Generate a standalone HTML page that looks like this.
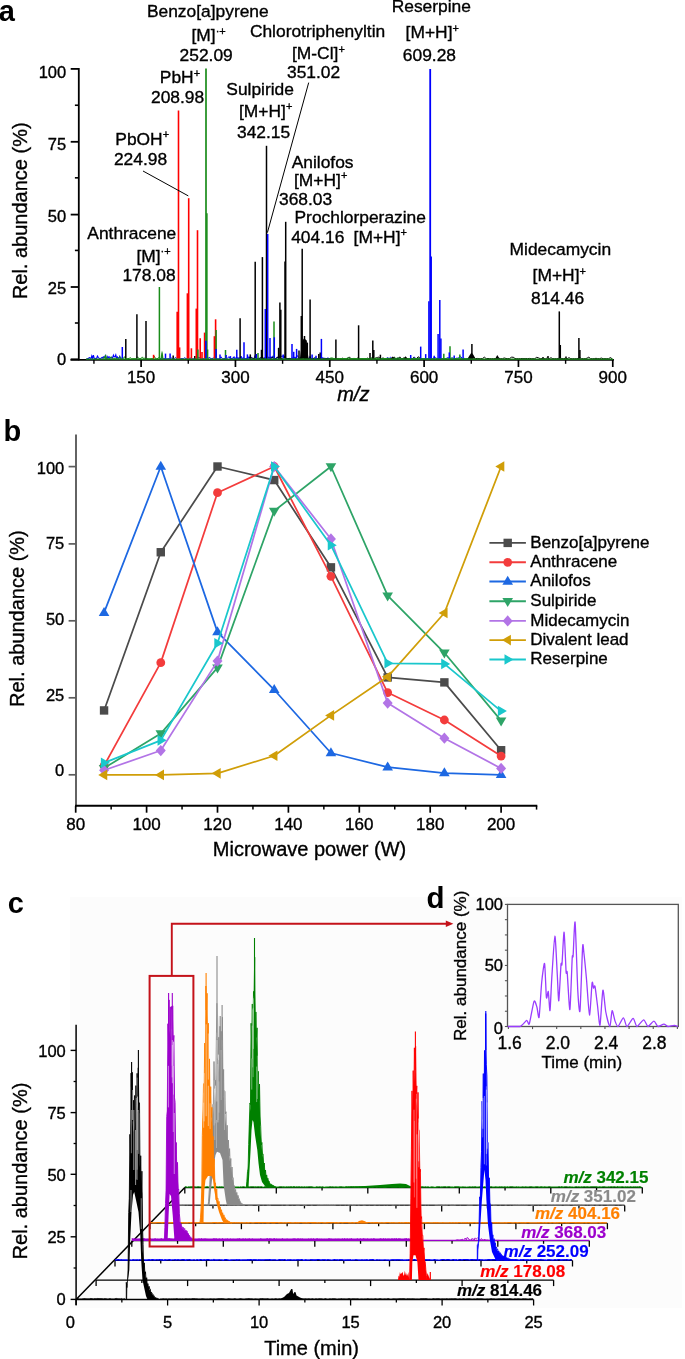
<!DOCTYPE html>
<html><head><meta charset="utf-8"><style>
html,body{margin:0;padding:0;background:#fff;}
svg{display:block;font-family:"Liberation Sans", sans-serif;will-change:transform;}
</style></head><body>
<svg width="685" height="1359" viewBox="0 0 685 1359">
<rect width="685" height="1359" fill="#fff"/>
<text x="-1.2" y="21" font-size="29" font-weight="bold">a</text>
<line x1="78.8" y1="67.9" x2="78.8" y2="360.2" stroke="#000000" stroke-width="1.8"/>
<line x1="70.5" y1="359.9" x2="613.8" y2="359.9" stroke="#000000" stroke-width="1.9"/>
<line x1="70.7" y1="68.9" x2="79" y2="68.9" stroke="#000000" stroke-width="1.8"/>
<line x1="70.7" y1="141.8" x2="79" y2="141.8" stroke="#000000" stroke-width="1.8"/>
<line x1="70.7" y1="214.6" x2="79" y2="214.6" stroke="#000000" stroke-width="1.8"/>
<line x1="70.7" y1="287" x2="79" y2="287" stroke="#000000" stroke-width="1.8"/>
<line x1="70.7" y1="359.3" x2="79" y2="359.3" stroke="#000000" stroke-width="1.8"/>
<line x1="74.9" y1="105.24" x2="79" y2="105.24" stroke="#000000" stroke-width="1.6"/>
<line x1="74.9" y1="177.83" x2="79" y2="177.83" stroke="#000000" stroke-width="1.6"/>
<line x1="74.9" y1="250.42" x2="79" y2="250.42" stroke="#000000" stroke-width="1.6"/>
<line x1="74.9" y1="323" x2="79" y2="323" stroke="#000000" stroke-width="1.6"/>
<text x="66.2" y="78" font-size="16.5" text-anchor="end" stroke="#000" stroke-width="0.35">100</text>
<text x="66.2" y="149.8" font-size="16.5" text-anchor="end" stroke="#000" stroke-width="0.35">75</text>
<text x="66.2" y="221.6" font-size="16.5" text-anchor="end" stroke="#000" stroke-width="0.35">50</text>
<text x="66.2" y="294" font-size="16.5" text-anchor="end" stroke="#000" stroke-width="0.35">25</text>
<text x="66.2" y="364.5" font-size="16.5" text-anchor="end" stroke="#000" stroke-width="0.35">0</text>
<line x1="141.1" y1="359" x2="141.1" y2="367" stroke="#000000" stroke-width="1.7"/>
<text x="141.1" y="383.3" font-size="17" text-anchor="middle" stroke="#000" stroke-width="0.35">150</text>
<line x1="235.44" y1="359" x2="235.44" y2="367" stroke="#000000" stroke-width="1.7"/>
<text x="235.44" y="383.3" font-size="17" text-anchor="middle" stroke="#000" stroke-width="0.35">300</text>
<line x1="329.77" y1="359" x2="329.77" y2="367" stroke="#000000" stroke-width="1.7"/>
<text x="329.77" y="383.3" font-size="17" text-anchor="middle" stroke="#000" stroke-width="0.35">450</text>
<line x1="424.11" y1="359" x2="424.11" y2="367" stroke="#000000" stroke-width="1.7"/>
<text x="424.11" y="383.3" font-size="17" text-anchor="middle" stroke="#000" stroke-width="0.35">600</text>
<line x1="518.44" y1="359" x2="518.44" y2="367" stroke="#000000" stroke-width="1.7"/>
<text x="518.44" y="383.3" font-size="17" text-anchor="middle" stroke="#000" stroke-width="0.35">750</text>
<line x1="612.77" y1="359" x2="612.77" y2="367" stroke="#000000" stroke-width="1.7"/>
<text x="612.77" y="383.3" font-size="17" text-anchor="middle" stroke="#000" stroke-width="0.35">900</text>
<line x1="93.93" y1="359.3" x2="93.93" y2="363.8" stroke="#000000" stroke-width="1.4"/>
<line x1="188.27" y1="359.3" x2="188.27" y2="363.8" stroke="#000000" stroke-width="1.4"/>
<line x1="282.6" y1="359.3" x2="282.6" y2="363.8" stroke="#000000" stroke-width="1.4"/>
<line x1="376.94" y1="359.3" x2="376.94" y2="363.8" stroke="#000000" stroke-width="1.4"/>
<line x1="471.27" y1="359.3" x2="471.27" y2="363.8" stroke="#000000" stroke-width="1.4"/>
<line x1="565.61" y1="359.3" x2="565.61" y2="363.8" stroke="#000000" stroke-width="1.4"/>
<text x="337.2" y="400.6" font-size="20" font-style="italic" stroke="#000" stroke-width="0.35">m/z</text>
<text x="0" y="0" font-size="20" text-anchor="middle" stroke="#000" stroke-width="0.35" transform="translate(27,210.8) rotate(-90)">Rel. abundance (%)</text>
<polyline points="87,358.7 87,358.61 87.8,358.68 88.6,358.17 89.4,357.67 90.2,357.95 91,358.67 91.8,355.97 92.6,358.5 93.4,355.11 94.2,358.07 95,358.69 95.8,358.36 96.6,358.64 97.4,356.04 98.2,357.35 99,358.15 99.8,358.68 100.6,358.53 101.4,357.97 102.2,357.33 103,358.34 103.8,356.75 104.6,357.38 105.4,355.64 106.2,358.37 107,358.64 107.8,356.41 108.6,357.74 109.4,356.91 110.2,357.39 111,358.31 111.8,357.29 112.6,357.87 113.4,355.13 114.2,356.94 115,356.73 115.8,354.76 116.6,358.38 117.4,356.91 118.2,357.85 119,358.65 119.8,356.34 120.6,358.45 121,358.7" fill="none" stroke="#0000ff" stroke-width="1.1"/>
<polyline points="104,358.7 104,356.8 105.2,358.2 106.4,356.75 107.6,358.7 108.8,358.7 110,358.27 111.2,356.75 112.4,358.7 113.6,358.62 114.8,358.56 116,357.83 117.2,358.7 118.4,358.36 119.6,356.43 120.8,358.7 122,357.75 123.2,358.7 124.4,356.68 125.6,358.7 126.8,358.7 128,358.7 129.2,358.3 130.4,357.69 131.6,358.69 132.8,358.63 134,358.69 135.2,358.64 136.4,358.37 137.6,356.79 138.8,358.7 140,358.54 141.2,358.37 142.4,356.9 143.6,358.7 144.8,358.11 146,358.67 147.2,358.52 148.4,358.7 149.6,358.7 150.8,358.7 152,358.65 153.2,358.7 154.4,356.31 155.6,358.7 156.8,358.7 158,358.36 159.2,357.21 160,358.7" fill="none" stroke="#1a8c1a" stroke-width="1"/>
<polyline points="160,358.7 160,358.7 161.3,358.7 162.6,358.58 163.9,358.7 165.2,358.7 166.5,358.7 167.8,358.7 169.1,358.7 170.4,358.7 171.7,358.03 173,358.7 174.3,358.5 175.6,357.5 176.9,358.7 178.2,356.5 179.5,358.7 180.8,358.7 182.1,358.58 183.4,358.6 184.7,357.73 186,358.7 187.3,358.7 188.6,357.63 189.9,358.7 191.2,357.61 192.5,358.7 193.8,358.7 195.1,358.7 196.4,358.62 197.7,358.7 199,357.1 200.3,358.7 201.6,358.3 202.9,358.7 204.2,358.7 205.5,358.66 206.8,356.65 208.1,358.7 209.4,356.99 210.7,358.7 212,358.7 213.3,357.95 214.6,358.7 215.9,358.7 217.2,358.7 218.5,358.7 219.8,358.7 221.1,356.8 222.4,358.7 223.7,358.54 225,358.56 226.3,358.7 227.6,358.26 228.9,356.63 230.2,358.18 231.5,358.7 232.8,358.7 234.1,356.59 235.4,358.7 236.7,358.7 238,358.7 239.3,358.22 240.6,358.7 241.9,358.7 243.2,358.14 244.5,358.7 245.8,358.7 247.1,358.03 248.4,358.7 249.7,358.7 250,358.7" fill="none" stroke="#0000ff" stroke-width="1"/>
<polyline points="230,358.7 230,357.6 231,358.43 232,358.7 233,357.6 234,358.7 235,358.7 236,357.39 237,357.78 238,357.98 239,357.9 240,358.7 241,356.01 242,358.7 243,357.6 244,358.7 245,358.7 246,358.65 247,358.68 248,358.68 249,356.55 250,358.7 251,356.91 252,358.63 253,358.7 254,358.7 255,355.52 256,357.87 257,358.7 258,358.7 259,358.05 260,358.3 261,358.34 262,358.7 263,357.63 264,358.7 265,357.34 266,358.69 267,358.7 268,358.7 269,358.7 270,358.45 271,356.58 272,358.64 273,355.79 274,358.7 275,358.62 276,358.7 277,356.98 278,358.69 279,358.07 280,355.62 281,356.45 282,356.13 283,356.09 284,358.3 285,355.69 286,358.64 287,358.5 288,358.61 289,358.56 290,358.37 291,358.7 292,357.82 293,358.28 294,358.48 295,356.82 296,358.57 297,355.64 298,356.35 299,357.84 300,358.7 301,357.8 302,355.32 303,356.28 304,358.7 305,358.13 306,358.69 307,358.68 308,358.7 309,358.61 310,356.22 311,358.7 312,358.42 313,358.4 314,358.61 315,358.46 316,358.7 317,358.7 318,358.49 319,358.7 320,358.25 321,358.19 322,357.82 323,357.81 324,358.46 325,358.14 326,358.7 327,358.51 328,357.72 329,358.7 330,358.7" fill="none" stroke="#0000ff" stroke-width="1"/>
<polyline points="380,358.7 380,358.7 381.5,358.7 383,358.7 384.5,358.49 386,358.7 387.5,357.65 389,358.7 390.5,357.3 392,358.7 393.5,358.7 395,358.7 396.5,358.7 398,358.15 399.5,358.7 401,358.7 402.5,358.7 404,358.7 405.5,358.7 407,358.7 408.5,358.7 410,358.7 411.5,358.7 413,358.44 414.5,357.3 416,358.7 417.5,358.7 419,358.7 420.5,358.7 422,358.7 423.5,358.7 425,358.7 426.5,358.7 428,358.7 429.5,358.7 431,357.61 432.5,358.69 434,357.64 435.5,357.61 437,358.7 438.5,358.41 440,357.77 441.5,358.7 443,358.7 444.5,358.7 446,358.66 447.5,357.6 449,358.06 450.5,358.69 452,357.8 453.5,358.7 455,358.7 456.5,358.17 458,358.27 459.5,357.1 461,356.79 462.5,358.7 464,358.28 465.5,358.7 467,358.7 468.5,358.56 470,358.7" fill="none" stroke="#0000ff" stroke-width="1"/>
<polyline points="250,358.7 250,356.91 251.4,358.02 252.8,358.15 254.2,358.7 255.6,357.35 257,358.7 258.4,358.7 259.8,358.7 261.2,357.09 262.6,358.7 264,358.22 265.4,358.52 266.8,358.46 268.2,357.29 269.6,357.57 271,358.7 272.4,356.98 273.8,358.7 275.2,358.7 276.6,358.42 278,356.7 279.4,358.7 280.8,358.33 282.2,358.7 283.6,357.31 285,356.95 286.4,358.56 287.8,358.7 289.2,358.42 290.6,358.7 292,358.7 293.4,358.7 294.8,358.7 296.2,358.7 297.6,358.7 299,358.7 300.4,358.7 301.8,357.63 303.2,357.57 304.6,358.7 306,358.7 307.4,358.7 308.8,358.25 310.2,358.52 311.6,358.7 313,358.7 314.4,357.84 315.8,358.08 317.2,358.64 318.6,358.61 320,358.7 321.4,358.6 322.8,358.7 324.2,358.7 325.6,358.66 327,358.68 328.4,358.68 329.8,358.57 331.2,358.7 332.6,358.7 334,358.7 335.4,358.36 336.8,358.7 338.2,358.47 339.6,358.55 341,358.7 342.4,358.19 343.8,358.7 345.2,358.7 346.6,358.55 348,358.38 349.4,356.88 350.8,358.7 352.2,358.7 353.6,358.7 355,358.7 356.4,358.7 357.8,358.01 359.2,358.39 360.6,358.7 362,358.7 363.4,358.7 364.8,358.7 366.2,358.68 367.6,358.15 369,358.7 370.4,358.7 371.8,358.7 373.2,358.7 374.6,358.7 376,358.09 377.4,357.48 378.8,357.01 380.2,358.7 381.6,358.67 383,357.89 384.4,358.7 385.8,358.69 387.2,358.7 388.6,358.7 390,358.6 391.4,358.7 392.8,358.52 394.2,356.86 395.6,358.7 397,358.7 398.4,358.59 399.8,356.85 401.2,358.7 402.6,358.7 404,357.79 405.4,358.57 406.8,358.7 408.2,358.7 409.6,358.7 411,358.35 412.4,358.7 413.8,357.43 415.2,358.7 416.6,358.7 418,356.82 419.4,357.36 420,358.7" fill="none" stroke="#000000" stroke-width="1"/>
<polyline points="470,358.7 470,358.62 471.8,358.7 473.6,357.25 475.4,358.64 477.2,358.42 479,358.7 480.8,358.7 482.6,358.45 484.4,357.18 486.2,358.7 488,358.45 489.8,358.7 491.6,358.7 493.4,358.7 495.2,358.7 497,358.7 498.8,358.64 500.6,358.7 502.4,358.7 504.2,357.99 506,358.48 507.8,358.65 509.6,358.57 511.4,357.24 513.2,357.21 515,358.5 516.8,358.7 518.6,358.7 520.4,358.7 522.2,358.48 524,358.7 525.8,358.49 527.6,358.7 529.4,358.43 531.2,358.7 533,358.7 534.8,358.7 536.6,357.35 538.4,357.81 540.2,358.7 542,358.58 543.8,358.7 545.6,358.7 547.4,357.88 549.2,358.58 551,357.79 552.8,358.7 554.6,358.7 556.4,358.7 558.2,358.61 560,357.24 561.8,358.7 563.6,358.6 565.4,358.31 567.2,358.7 569,357.67 570.8,358.7 572.6,358.7 574.4,358.7 576.2,358.7 578,358.54 579.8,357.72 581.6,358.64 583.4,358.7 585.2,358.69 587,358.21 588.8,357.16 590.6,358.7 592.4,358.7 594.2,358.69 596,358.3 597.8,358.7 599.6,358.61 601.4,358.08 603.2,358.7 605,358.7 606.8,358.7 608.6,358.7 610.4,357.57 612,358.7" fill="none" stroke="#000000" stroke-width="1"/>
<polyline points="330,358.7 330,358.22 332,357.88 334,358.61 336,358.66 338,358.7 340,358.7 342,358.46 344,358.7 346,358.7 348,357.72 350,358.7 352,358.7 354,358.36 356,358.7 358,358.7 360,358.7 362,358.57 364,358.65 366,358.7 368,358.7 370,358.7 372,357.57 374,358.7 376,357.79 378,358.7 380,358.17 382,358.7 384,358.5 386,358.64 388,358.16 390,358.7 392,358.7 394,358.01 396,358.55 398,357.75 400,358.7 402,358.68 404,358.25 406,358.7 408,358.66 410,358.7 412,358.7 414,358.56 416,358.7 418,358.22 420,358.44 422,358.7 424,358.7 426,358.64 428,358.7 430,358.7 432,358.7 434,358.7 436,358.7 438,358.7 440,358.7 442,358.7 444,358.7 446,358.7 448,358.7 450,358.7 452,358.12 454,358.32 456,358.58 458,358.7 460,358.7 462,358.34 464,358.7 466,358.7 468,358.68 470,358.7" fill="none" stroke="#1a8c1a" stroke-width="1"/>
<line x1="125.8" y1="358.8" x2="125.8" y2="339" stroke="#000000" stroke-width="1.5"/>
<line x1="136.9" y1="358.8" x2="136.9" y2="314.3" stroke="#000000" stroke-width="1.5"/>
<line x1="146" y1="358.8" x2="146" y2="321" stroke="#000000" stroke-width="1.5"/>
<line x1="173.2" y1="358.8" x2="173.2" y2="355.6" stroke="#000000" stroke-width="1.5"/>
<line x1="194.8" y1="358.8" x2="194.8" y2="356.1" stroke="#000000" stroke-width="1.5"/>
<line x1="240.1" y1="358.8" x2="240.1" y2="318.3" stroke="#000000" stroke-width="1.5"/>
<line x1="250.3" y1="358.8" x2="250.3" y2="354.4" stroke="#000000" stroke-width="1.5"/>
<line x1="255.2" y1="358.8" x2="255.2" y2="261.8" stroke="#000000" stroke-width="1.5"/>
<line x1="261.5" y1="358.8" x2="261.5" y2="349.8" stroke="#000000" stroke-width="1.5"/>
<line x1="262.4" y1="358.8" x2="262.4" y2="257.1" stroke="#000000" stroke-width="1.5"/>
<line x1="266.5" y1="358.8" x2="266.5" y2="145.8" stroke="#000000" stroke-width="1.5"/>
<line x1="278.6" y1="358.8" x2="278.6" y2="347.8" stroke="#000000" stroke-width="1.5"/>
<line x1="279.9" y1="358.8" x2="279.9" y2="302.5" stroke="#000000" stroke-width="1.5"/>
<line x1="280.8" y1="358.8" x2="280.8" y2="309.7" stroke="#000000" stroke-width="1.5"/>
<line x1="285" y1="358.8" x2="285" y2="261.5" stroke="#000000" stroke-width="1.5"/>
<line x1="285.7" y1="358.8" x2="285.7" y2="221.8" stroke="#000000" stroke-width="1.5"/>
<line x1="299" y1="358.8" x2="299" y2="350.4" stroke="#000000" stroke-width="1.5"/>
<line x1="301.3" y1="358.8" x2="301.3" y2="316" stroke="#000000" stroke-width="1.5"/>
<line x1="302.2" y1="358.8" x2="302.2" y2="248.8" stroke="#000000" stroke-width="1.5"/>
<line x1="304.5" y1="358.8" x2="304.5" y2="336" stroke="#000000" stroke-width="1.5"/>
<line x1="306" y1="358.8" x2="306" y2="340.6" stroke="#000000" stroke-width="1.5"/>
<line x1="307.3" y1="358.8" x2="307.3" y2="342.6" stroke="#000000" stroke-width="1.5"/>
<line x1="310.1" y1="358.8" x2="310.1" y2="299.5" stroke="#000000" stroke-width="1.5"/>
<line x1="318.8" y1="358.8" x2="318.8" y2="354" stroke="#000000" stroke-width="1.5"/>
<line x1="320.2" y1="358.8" x2="320.2" y2="352.4" stroke="#000000" stroke-width="1.5"/>
<line x1="335.9" y1="358.8" x2="335.9" y2="339.6" stroke="#000000" stroke-width="1.5"/>
<line x1="358.6" y1="358.8" x2="358.6" y2="325.3" stroke="#000000" stroke-width="1.5"/>
<line x1="370" y1="358.8" x2="370" y2="352.9" stroke="#000000" stroke-width="1.5"/>
<line x1="372.8" y1="358.8" x2="372.8" y2="340.6" stroke="#000000" stroke-width="1.5"/>
<line x1="373.8" y1="358.8" x2="373.8" y2="350" stroke="#000000" stroke-width="1.5"/>
<line x1="380.4" y1="358.8" x2="380.4" y2="354.7" stroke="#000000" stroke-width="1.5"/>
<line x1="471.9" y1="358.8" x2="471.9" y2="344.1" stroke="#000000" stroke-width="1.5"/>
<line x1="559.3" y1="358.8" x2="559.3" y2="311.4" stroke="#000000" stroke-width="1.5"/>
<line x1="560.3" y1="358.8" x2="560.3" y2="345" stroke="#000000" stroke-width="1.5"/>
<line x1="578.9" y1="358.8" x2="578.9" y2="337.9" stroke="#000000" stroke-width="1.5"/>
<line x1="579.9" y1="358.8" x2="579.9" y2="350" stroke="#000000" stroke-width="1.5"/>
<line x1="548" y1="358.8" x2="548" y2="356" stroke="#000000" stroke-width="1.5"/>
<line x1="566" y1="358.8" x2="566" y2="356.5" stroke="#000000" stroke-width="1.5"/>
<line x1="543" y1="358.8" x2="543" y2="357" stroke="#000000" stroke-width="1.5"/>
<polygon points="300,358.8 302.12,341 304.25,338 306.38,340.5 308.5,358.8" fill="#000000"/>
<polygon points="467.5,358.8 469.5,355.5 471.5,352.5 473.5,355 475.5,358.8" fill="#000000"/>
<polygon points="494,358.8 495.62,358 497.25,355 498.88,357.5 500.5,358.8" fill="#000000"/>
<polygon points="387,358.8 389.75,359.6 392.5,356.6 395.25,359.1 398,358.8" fill="#000000"/>
<polygon points="401,358.8 403.25,359.2 405.5,356.2 407.75,358.7 410,358.8" fill="#000000"/>
<line x1="178.5" y1="358.8" x2="178.5" y2="110.5" stroke="#ff0000" stroke-width="1.6"/>
<line x1="177.2" y1="358.8" x2="177.2" y2="311.7" stroke="#ff0000" stroke-width="1.6"/>
<line x1="179.6" y1="358.8" x2="179.6" y2="347.4" stroke="#ff0000" stroke-width="1.6"/>
<line x1="188.7" y1="358.8" x2="188.7" y2="198.2" stroke="#ff0000" stroke-width="1.6"/>
<line x1="187.4" y1="358.8" x2="187.4" y2="293.3" stroke="#ff0000" stroke-width="1.6"/>
<line x1="191.4" y1="358.8" x2="191.4" y2="348.3" stroke="#ff0000" stroke-width="1.6"/>
<line x1="197.5" y1="358.8" x2="197.5" y2="230.2" stroke="#ff0000" stroke-width="1.6"/>
<line x1="196.3" y1="358.8" x2="196.3" y2="308.6" stroke="#ff0000" stroke-width="1.6"/>
<line x1="200.2" y1="358.8" x2="200.2" y2="338.2" stroke="#ff0000" stroke-width="1.6"/>
<line x1="204.6" y1="358.8" x2="204.6" y2="332.6" stroke="#ff0000" stroke-width="1.6"/>
<line x1="215.6" y1="358.8" x2="215.6" y2="319.3" stroke="#ff0000" stroke-width="1.6"/>
<line x1="214.4" y1="358.8" x2="214.4" y2="336.2" stroke="#ff0000" stroke-width="1.6"/>
<line x1="153.6" y1="358.8" x2="153.6" y2="354.8" stroke="#ff0000" stroke-width="1.6"/>
<line x1="202" y1="358.8" x2="202" y2="352" stroke="#ff0000" stroke-width="1.6"/>
<line x1="206" y1="358.8" x2="206" y2="68.5" stroke="#1a8c1a" stroke-width="1.7"/>
<line x1="206.9" y1="358.8" x2="206.9" y2="213.3" stroke="#1a8c1a" stroke-width="1.5"/>
<line x1="159.4" y1="358.8" x2="159.4" y2="287" stroke="#1a8c1a" stroke-width="1.5"/>
<line x1="197.9" y1="358.8" x2="197.9" y2="349.5" stroke="#1a8c1a" stroke-width="1.5"/>
<line x1="207.6" y1="358.8" x2="207.6" y2="349.5" stroke="#1a8c1a" stroke-width="1.5"/>
<line x1="216.1" y1="358.8" x2="216.1" y2="330.1" stroke="#1a8c1a" stroke-width="1.5"/>
<line x1="225.5" y1="358.8" x2="225.5" y2="350" stroke="#1a8c1a" stroke-width="1.5"/>
<line x1="258" y1="358.8" x2="258" y2="353" stroke="#1a8c1a" stroke-width="1.5"/>
<line x1="274" y1="358.8" x2="274" y2="321.5" stroke="#1a8c1a" stroke-width="1.5"/>
<line x1="443.8" y1="358.8" x2="443.8" y2="353.7" stroke="#1a8c1a" stroke-width="1.5"/>
<line x1="450" y1="358.8" x2="450" y2="346.2" stroke="#1a8c1a" stroke-width="1.5"/>
<line x1="459.8" y1="358.8" x2="459.8" y2="354.4" stroke="#1a8c1a" stroke-width="1.5"/>
<line x1="105.6" y1="358.8" x2="105.6" y2="354.8" stroke="#1a8c1a" stroke-width="1.5"/>
<polygon points="160.5,358.8 161.25,353.5 162,350.5 162.75,353 163.5,358.8" fill="#1a8c1a"/>
<line x1="122.3" y1="358.8" x2="122.3" y2="347" stroke="#0000ff" stroke-width="1.5"/>
<line x1="165.5" y1="358.8" x2="165.5" y2="353.6" stroke="#0000ff" stroke-width="1.5"/>
<line x1="170.1" y1="358.8" x2="170.1" y2="353.6" stroke="#0000ff" stroke-width="1.5"/>
<line x1="205.9" y1="358.8" x2="205.9" y2="340.8" stroke="#0000ff" stroke-width="1.5"/>
<line x1="216.1" y1="358.8" x2="216.1" y2="349" stroke="#0000ff" stroke-width="1.5"/>
<line x1="220" y1="358.8" x2="220" y2="354.6" stroke="#0000ff" stroke-width="1.5"/>
<line x1="226.1" y1="358.8" x2="226.1" y2="355.1" stroke="#0000ff" stroke-width="1.5"/>
<line x1="230.4" y1="358.8" x2="230.4" y2="356.1" stroke="#0000ff" stroke-width="1.5"/>
<line x1="236.8" y1="358.8" x2="236.8" y2="349.8" stroke="#0000ff" stroke-width="1.5"/>
<line x1="244" y1="358.8" x2="244" y2="342.3" stroke="#0000ff" stroke-width="1.5"/>
<line x1="247.4" y1="358.8" x2="247.4" y2="354.4" stroke="#0000ff" stroke-width="1.5"/>
<line x1="256.3" y1="358.8" x2="256.3" y2="354" stroke="#0000ff" stroke-width="1.5"/>
<line x1="267.7" y1="358.8" x2="267.7" y2="234" stroke="#0000ff" stroke-width="1.5"/>
<line x1="265.3" y1="358.8" x2="265.3" y2="309" stroke="#0000ff" stroke-width="1.5"/>
<line x1="270" y1="358.8" x2="270" y2="338" stroke="#0000ff" stroke-width="1.5"/>
<line x1="274.3" y1="358.8" x2="274.3" y2="337.3" stroke="#0000ff" stroke-width="1.5"/>
<line x1="283.2" y1="358.8" x2="283.2" y2="354.4" stroke="#0000ff" stroke-width="1.5"/>
<line x1="292" y1="358.8" x2="292" y2="344" stroke="#0000ff" stroke-width="1.5"/>
<line x1="293.7" y1="358.8" x2="293.7" y2="351.8" stroke="#0000ff" stroke-width="1.5"/>
<line x1="296.6" y1="358.8" x2="296.6" y2="348.9" stroke="#0000ff" stroke-width="1.5"/>
<line x1="312.1" y1="358.8" x2="312.1" y2="354.4" stroke="#0000ff" stroke-width="1.5"/>
<line x1="316" y1="358.8" x2="316" y2="355.7" stroke="#0000ff" stroke-width="1.5"/>
<line x1="321.4" y1="358.8" x2="321.4" y2="338.9" stroke="#0000ff" stroke-width="1.5"/>
<line x1="410.7" y1="358.8" x2="410.7" y2="355" stroke="#0000ff" stroke-width="1.5"/>
<line x1="420.7" y1="358.8" x2="420.7" y2="346.6" stroke="#0000ff" stroke-width="1.5"/>
<line x1="425.7" y1="358.8" x2="425.7" y2="354.1" stroke="#0000ff" stroke-width="1.5"/>
<line x1="430.2" y1="358.8" x2="430.2" y2="69" stroke="#0000ff" stroke-width="1.8"/>
<line x1="428.9" y1="358.8" x2="428.9" y2="301.2" stroke="#0000ff" stroke-width="1.5"/>
<line x1="431.2" y1="358.8" x2="431.2" y2="256.6" stroke="#0000ff" stroke-width="1.5"/>
<line x1="439.8" y1="358.8" x2="439.8" y2="299.9" stroke="#0000ff" stroke-width="1.5"/>
<line x1="438.1" y1="358.8" x2="438.1" y2="334" stroke="#0000ff" stroke-width="1.5"/>
<line x1="440.9" y1="358.8" x2="440.9" y2="338.6" stroke="#0000ff" stroke-width="1.5"/>
<line x1="434.2" y1="358.8" x2="434.2" y2="355.7" stroke="#0000ff" stroke-width="1.5"/>
<line x1="449.3" y1="358.8" x2="449.3" y2="352.4" stroke="#0000ff" stroke-width="1.5"/>
<line x1="454.2" y1="358.8" x2="454.2" y2="355.4" stroke="#0000ff" stroke-width="1.5"/>
<line x1="463.1" y1="358.8" x2="463.1" y2="349.4" stroke="#0000ff" stroke-width="1.5"/>
<line x1="86" y1="359.1" x2="613" y2="359.1" stroke="#1a8c1a" stroke-width="1.2"/>
<text x="146.9" y="16.9" font-size="17.4" stroke="#000" stroke-width="0.35">Benzo[a]pyrene</text>
<text x="191.5" y="41" font-size="17.4" stroke="#000" stroke-width="0.35">[M]<tspan font-size="11" dy="-6.5">&#183;+</tspan></text>
<text x="179.6" y="60.8" font-size="17.4" stroke="#000" stroke-width="0.35">252.09</text>
<text x="249.9" y="36.7" font-size="17.4" stroke="#000" stroke-width="0.35">Chlorotriphenyltin</text>
<text x="292" y="59" font-size="17.4" stroke="#000" stroke-width="0.35">[M-Cl]<tspan font-size="11" dy="-6.5">+</tspan></text>
<text x="287" y="77.7" font-size="17.4" stroke="#000" stroke-width="0.35">351.02</text>
<text x="391.7" y="12.4" font-size="17.4" stroke="#000" stroke-width="0.35">Reserpine</text>
<text x="405.6" y="38" font-size="17.4" stroke="#000" stroke-width="0.35">[M+H]<tspan font-size="11" dy="-6.5">+</tspan></text>
<text x="402.8" y="61" font-size="17.4" stroke="#000" stroke-width="0.35">609.28</text>
<text x="159.8" y="83" font-size="17.4" stroke="#000" stroke-width="0.35">PbH<tspan font-size="11" dy="-6.5">+</tspan></text>
<text x="151" y="103" font-size="17.4" stroke="#000" stroke-width="0.35">208.98</text>
<text x="226.3" y="95" font-size="17.4" stroke="#000" stroke-width="0.35">Sulpiride</text>
<text x="239" y="116.6" font-size="17.4" stroke="#000" stroke-width="0.35">[M+H]<tspan font-size="11" dy="-6.5">+</tspan></text>
<text x="237" y="137.7" font-size="17.4" stroke="#000" stroke-width="0.35">342.15</text>
<text x="115.3" y="144.5" font-size="17.4" stroke="#000" stroke-width="0.35">PbOH<tspan font-size="11" dy="-6.5">+</tspan></text>
<text x="113.9" y="165" font-size="17.4" stroke="#000" stroke-width="0.35">224.98</text>
<text x="87.3" y="238.9" font-size="17.4" stroke="#000" stroke-width="0.35">Anthracene</text>
<text x="136.4" y="261.8" font-size="17.4" stroke="#000" stroke-width="0.35">[M]<tspan font-size="11" dy="-6.5">&#183;+</tspan></text>
<text x="122.4" y="281" font-size="17.4" stroke="#000" stroke-width="0.35">178.08</text>
<text x="291.7" y="167.6" font-size="17.4" stroke="#000" stroke-width="0.35">Anilofos</text>
<text x="294" y="185.5" font-size="17.4" stroke="#000" stroke-width="0.35">[M+H]<tspan font-size="11" dy="-6.5">+</tspan></text>
<text x="279" y="204.8" font-size="17.4" stroke="#000" stroke-width="0.35">368.03</text>
<text x="294.5" y="222.9" font-size="17.4" stroke="#000" stroke-width="0.35">Prochlorperazine</text>
<text x="291.2" y="242.8" font-size="17.4" stroke="#000" stroke-width="0.35">404.16</text>
<text x="353.6" y="242.8" font-size="17.4" stroke="#000" stroke-width="0.35">[M+H]<tspan font-size="11" dy="-6.5">+</tspan></text>
<text x="509.6" y="255.1" font-size="17.4" stroke="#000" stroke-width="0.35">Midecamycin</text>
<text x="532.6" y="281.2" font-size="17.4" stroke="#000" stroke-width="0.35">[M+H]<tspan font-size="11" dy="-6.5">+</tspan></text>
<text x="531" y="304.2" font-size="17.4" stroke="#000" stroke-width="0.35">814.46</text>
<line x1="143" y1="171" x2="188.3" y2="195.9" stroke="#000000" stroke-width="1"/>
<line x1="308.7" y1="82.6" x2="267.4" y2="232.6" stroke="#000000" stroke-width="1"/>
<text x="3.5" y="440.5" font-size="29" font-weight="bold">b</text>
<line x1="76" y1="434.5" x2="76" y2="806.5" stroke="#5c5c5c" stroke-width="1.9"/>
<line x1="68.6" y1="466.6" x2="76" y2="466.6" stroke="#5c5c5c" stroke-width="1.7"/>
<line x1="68.6" y1="543.9" x2="76" y2="543.9" stroke="#5c5c5c" stroke-width="1.7"/>
<line x1="68.6" y1="620.8" x2="76" y2="620.8" stroke="#5c5c5c" stroke-width="1.7"/>
<line x1="68.6" y1="697.8" x2="76" y2="697.8" stroke="#5c5c5c" stroke-width="1.7"/>
<line x1="68.6" y1="774.8" x2="76" y2="774.8" stroke="#5c5c5c" stroke-width="1.7"/>
<text x="64.3" y="473.6" font-size="16.5" text-anchor="end" stroke="#000" stroke-width="0.35">100</text>
<text x="64.3" y="549.4" font-size="16.5" text-anchor="end" stroke="#000" stroke-width="0.35">75</text>
<text x="64.3" y="625.1" font-size="16.5" text-anchor="end" stroke="#000" stroke-width="0.35">50</text>
<text x="64.3" y="701" font-size="16.5" text-anchor="end" stroke="#000" stroke-width="0.35">25</text>
<text x="64.3" y="776.2" font-size="16.5" text-anchor="end" stroke="#000" stroke-width="0.35">0</text>
<line x1="75.1" y1="805.8" x2="537.3" y2="805.8" stroke="#000000" stroke-width="1.9"/>
<line x1="75.7" y1="805.8" x2="75.7" y2="812.7" stroke="#000000" stroke-width="1.7"/>
<text x="75.7" y="830.2" font-size="17" text-anchor="middle" stroke="#000" stroke-width="0.35">80</text>
<line x1="146.6" y1="805.8" x2="146.6" y2="812.7" stroke="#000000" stroke-width="1.7"/>
<text x="146.6" y="830.2" font-size="17" text-anchor="middle" stroke="#000" stroke-width="0.35">100</text>
<line x1="217.5" y1="805.8" x2="217.5" y2="812.7" stroke="#000000" stroke-width="1.7"/>
<text x="217.5" y="830.2" font-size="17" text-anchor="middle" stroke="#000" stroke-width="0.35">120</text>
<line x1="288.4" y1="805.8" x2="288.4" y2="812.7" stroke="#000000" stroke-width="1.7"/>
<text x="288.4" y="830.2" font-size="17" text-anchor="middle" stroke="#000" stroke-width="0.35">140</text>
<line x1="359.3" y1="805.8" x2="359.3" y2="812.7" stroke="#000000" stroke-width="1.7"/>
<text x="359.3" y="830.2" font-size="17" text-anchor="middle" stroke="#000" stroke-width="0.35">160</text>
<line x1="430.2" y1="805.8" x2="430.2" y2="812.7" stroke="#000000" stroke-width="1.7"/>
<text x="430.2" y="830.2" font-size="17" text-anchor="middle" stroke="#000" stroke-width="0.35">180</text>
<line x1="501.1" y1="805.8" x2="501.1" y2="812.7" stroke="#000000" stroke-width="1.7"/>
<text x="501.1" y="830.2" font-size="17" text-anchor="middle" stroke="#000" stroke-width="0.35">200</text>
<line x1="111.15" y1="805.8" x2="111.15" y2="809.6" stroke="#000000" stroke-width="1.5"/>
<line x1="182.05" y1="805.8" x2="182.05" y2="809.6" stroke="#000000" stroke-width="1.5"/>
<line x1="252.95" y1="805.8" x2="252.95" y2="809.6" stroke="#000000" stroke-width="1.5"/>
<line x1="323.85" y1="805.8" x2="323.85" y2="809.6" stroke="#000000" stroke-width="1.5"/>
<line x1="394.75" y1="805.8" x2="394.75" y2="809.6" stroke="#000000" stroke-width="1.5"/>
<line x1="465.65" y1="805.8" x2="465.65" y2="809.6" stroke="#000000" stroke-width="1.5"/>
<line x1="536.55" y1="805.8" x2="536.55" y2="809.6" stroke="#000000" stroke-width="1.5"/>
<text x="309.5" y="856.3" font-size="20" text-anchor="middle" stroke="#000" stroke-width="0.35">Microwave power (W)</text>
<text x="0" y="0" font-size="20" text-anchor="middle" stroke="#000" stroke-width="0.35" transform="translate(24.4,618.6) rotate(-90)">Rel. abundance (%)</text>
<polyline points="104.06,710.44 160.78,552.24 217.5,466.5 274.22,480.07 330.94,567.35 387.66,677.45 444.38,682.38 501.1,750.23" fill="none" stroke="#4b4b4b" stroke-width="1.75" stroke-linejoin="round"/>
<rect x="99.86" y="706.24" width="8.4" height="8.4" fill="#4b4b4b"/>
<rect x="156.58" y="548.04" width="8.4" height="8.4" fill="#4b4b4b"/>
<rect x="213.3" y="462.3" width="8.4" height="8.4" fill="#4b4b4b"/>
<rect x="270.02" y="475.87" width="8.4" height="8.4" fill="#4b4b4b"/>
<rect x="326.74" y="563.15" width="8.4" height="8.4" fill="#4b4b4b"/>
<rect x="383.46" y="673.25" width="8.4" height="8.4" fill="#4b4b4b"/>
<rect x="440.18" y="678.18" width="8.4" height="8.4" fill="#4b4b4b"/>
<rect x="496.9" y="746.03" width="8.4" height="8.4" fill="#4b4b4b"/>
<polyline points="104.06,765.65 160.78,662.64 217.5,492.71 274.22,466.5 330.94,576.29 387.66,692.56 444.38,720 501.1,756.09" fill="none" stroke="#f33c3c" stroke-width="1.75" stroke-linejoin="round"/>
<circle cx="104.06" cy="765.65" r="4.4" fill="#f33c3c"/>
<circle cx="160.78" cy="662.64" r="4.4" fill="#f33c3c"/>
<circle cx="217.5" cy="492.71" r="4.4" fill="#f33c3c"/>
<circle cx="274.22" cy="466.5" r="4.4" fill="#f33c3c"/>
<circle cx="330.94" cy="576.29" r="4.4" fill="#f33c3c"/>
<circle cx="387.66" cy="692.56" r="4.4" fill="#f33c3c"/>
<circle cx="444.38" cy="720" r="4.4" fill="#f33c3c"/>
<circle cx="501.1" cy="756.09" r="4.4" fill="#f33c3c"/>
<polyline points="104.06,612.68 160.78,466.5 217.5,632.11 274.22,689.78 330.94,753 387.66,767.19 444.38,773.05 501.1,774.9" fill="none" stroke="#1d68e2" stroke-width="1.75" stroke-linejoin="round"/>
<polygon points="104.06,606.88 109.36,615.88 98.76,615.88" fill="#1d68e2"/>
<polygon points="160.78,460.7 166.08,469.7 155.48,469.7" fill="#1d68e2"/>
<polygon points="217.5,626.31 222.8,635.31 212.2,635.31" fill="#1d68e2"/>
<polygon points="274.22,683.98 279.52,692.98 268.92,692.98" fill="#1d68e2"/>
<polygon points="330.94,747.2 336.24,756.2 325.64,756.2" fill="#1d68e2"/>
<polygon points="387.66,761.39 392.96,770.39 382.36,770.39" fill="#1d68e2"/>
<polygon points="444.38,767.25 449.68,776.25 439.08,776.25" fill="#1d68e2"/>
<polygon points="501.1,769.1 506.4,778.1 495.8,778.1" fill="#1d68e2"/>
<polyline points="104.06,768.12 160.78,733.57 217.5,667.58 274.22,510.91 330.94,466.5 387.66,595.72 444.38,652.77 501.1,720.62" fill="none" stroke="#2ea467" stroke-width="1.75" stroke-linejoin="round"/>
<polygon points="104.06,773.92 109.36,764.92 98.76,764.92" fill="#2ea467"/>
<polygon points="160.78,739.37 166.08,730.37 155.48,730.37" fill="#2ea467"/>
<polygon points="217.5,673.38 222.8,664.38 212.2,664.38" fill="#2ea467"/>
<polygon points="274.22,516.71 279.52,507.71 268.92,507.71" fill="#2ea467"/>
<polygon points="330.94,472.3 336.24,463.3 325.64,463.3" fill="#2ea467"/>
<polygon points="387.66,601.52 392.96,592.52 382.36,592.52" fill="#2ea467"/>
<polygon points="444.38,658.57 449.68,649.57 439.08,649.57" fill="#2ea467"/>
<polygon points="501.1,726.42 506.4,717.42 495.8,717.42" fill="#2ea467"/>
<polyline points="104.06,770.27 160.78,750.54 217.5,661.1 274.22,466.5 330.94,538.97 387.66,703.04 444.38,738.2 501.1,768.42" fill="none" stroke="#b274e6" stroke-width="1.75" stroke-linejoin="round"/>
<polygon points="104.06,764.67 109.06,770.27 104.06,775.87 99.06,770.27" fill="#b274e6"/>
<polygon points="160.78,744.94 165.78,750.54 160.78,756.14 155.78,750.54" fill="#b274e6"/>
<polygon points="217.5,655.5 222.5,661.1 217.5,666.7 212.5,661.1" fill="#b274e6"/>
<polygon points="274.22,460.9 279.22,466.5 274.22,472.1 269.22,466.5" fill="#b274e6"/>
<polygon points="330.94,533.37 335.94,538.97 330.94,544.57 325.94,538.97" fill="#b274e6"/>
<polygon points="387.66,697.44 392.66,703.04 387.66,708.64 382.66,703.04" fill="#b274e6"/>
<polygon points="444.38,732.6 449.38,738.2 444.38,743.8 439.38,738.2" fill="#b274e6"/>
<polygon points="501.1,762.82 506.1,768.42 501.1,774.02 496.1,768.42" fill="#b274e6"/>
<polyline points="104.06,774.9 160.78,774.9 217.5,773.36 274.22,755.78 330.94,715.38 387.66,676.83 444.38,612.99 501.1,466.5" fill="none" stroke="#d09e08" stroke-width="1.75" stroke-linejoin="round"/>
<polygon points="98.26,774.9 107.26,769.6 107.26,780.2" fill="#d09e08"/>
<polygon points="154.98,774.9 163.98,769.6 163.98,780.2" fill="#d09e08"/>
<polygon points="211.7,773.36 220.7,768.06 220.7,778.66" fill="#d09e08"/>
<polygon points="268.42,755.78 277.42,750.48 277.42,761.08" fill="#d09e08"/>
<polygon points="325.14,715.38 334.14,710.08 334.14,720.68" fill="#d09e08"/>
<polygon points="381.86,676.83 390.86,671.53 390.86,682.13" fill="#d09e08"/>
<polygon points="438.58,612.99 447.58,607.69 447.58,618.29" fill="#d09e08"/>
<polygon points="495.3,466.5 504.3,461.2 504.3,471.8" fill="#d09e08"/>
<polyline points="104.06,762.87 160.78,740.36 217.5,643.21 274.22,466.5 330.94,545.14 387.66,663.26 444.38,663.88 501.1,711.06" fill="none" stroke="#1ac7cc" stroke-width="1.75" stroke-linejoin="round"/>
<polygon points="109.86,762.87 100.86,757.57 100.86,768.17" fill="#1ac7cc"/>
<polygon points="166.58,740.36 157.58,735.06 157.58,745.66" fill="#1ac7cc"/>
<polygon points="223.3,643.21 214.3,637.91 214.3,648.51" fill="#1ac7cc"/>
<polygon points="280.02,466.5 271.02,461.2 271.02,471.8" fill="#1ac7cc"/>
<polygon points="336.74,545.14 327.74,539.84 327.74,550.44" fill="#1ac7cc"/>
<polygon points="393.46,663.26 384.46,657.96 384.46,668.56" fill="#1ac7cc"/>
<polygon points="450.18,663.88 441.18,658.58 441.18,669.18" fill="#1ac7cc"/>
<polygon points="506.9,711.06 497.9,705.76 497.9,716.36" fill="#1ac7cc"/>
<line x1="489.4" y1="542.9" x2="525.9" y2="542.9" stroke="#4b4b4b" stroke-width="1.9"/>
<rect x="503.5" y="538.7" width="8.4" height="8.4" fill="#4b4b4b"/>
<text x="530.3" y="547.5" font-size="17" stroke="#000" stroke-width="0.35">Benzo[a]pyrene</text>
<line x1="489.4" y1="562.3" x2="525.9" y2="562.3" stroke="#f33c3c" stroke-width="1.9"/>
<circle cx="507.7" cy="562.3" r="4.4" fill="#f33c3c"/>
<text x="530.3" y="566.9" font-size="17" stroke="#000" stroke-width="0.35">Anthracene</text>
<line x1="489.4" y1="581.5" x2="525.9" y2="581.5" stroke="#1d68e2" stroke-width="1.9"/>
<polygon points="507.7,575.7 513,584.7 502.4,584.7" fill="#1d68e2"/>
<text x="530.3" y="586.1" font-size="17" stroke="#000" stroke-width="0.35">Anilofos</text>
<line x1="489.4" y1="601.2" x2="525.9" y2="601.2" stroke="#2ea467" stroke-width="1.9"/>
<polygon points="507.7,607 513,598 502.4,598" fill="#2ea467"/>
<text x="530.3" y="605.8" font-size="17" stroke="#000" stroke-width="0.35">Sulpiride</text>
<line x1="489.4" y1="620.9" x2="525.9" y2="620.9" stroke="#b274e6" stroke-width="1.9"/>
<polygon points="507.7,615.3 512.7,620.9 507.7,626.5 502.7,620.9" fill="#b274e6"/>
<text x="530.3" y="625.5" font-size="17" stroke="#000" stroke-width="0.35">Midecamycin</text>
<line x1="489.4" y1="640.1" x2="525.9" y2="640.1" stroke="#d09e08" stroke-width="1.9"/>
<polygon points="501.9,640.1 510.9,634.8 510.9,645.4" fill="#d09e08"/>
<text x="530.3" y="644.7" font-size="17" stroke="#000" stroke-width="0.35">Divalent lead</text>
<line x1="489.4" y1="659.5" x2="525.9" y2="659.5" stroke="#1ac7cc" stroke-width="1.9"/>
<polygon points="513.5,659.5 504.5,654.2 504.5,664.8" fill="#1ac7cc"/>
<text x="530.3" y="664.1" font-size="17" stroke="#000" stroke-width="0.35">Reserpine</text>
<rect x="70" y="897" width="612" height="411" fill="#fcfcfc"/>
<text x="7.8" y="913.2" font-size="29" font-weight="bold">c</text>
<line x1="76.1" y1="1024.8" x2="76.1" y2="1305" stroke="#000000" stroke-width="1.5"/>
<line x1="70.6" y1="1050.4" x2="76.1" y2="1050.4" stroke="#000000" stroke-width="1.4"/>
<line x1="70.6" y1="1112.6" x2="76.1" y2="1112.6" stroke="#000000" stroke-width="1.4"/>
<line x1="70.6" y1="1174.3" x2="76.1" y2="1174.3" stroke="#000000" stroke-width="1.4"/>
<line x1="70.6" y1="1236.8" x2="76.1" y2="1236.8" stroke="#000000" stroke-width="1.4"/>
<line x1="70.6" y1="1299.4" x2="76.1" y2="1299.4" stroke="#000000" stroke-width="1.4"/>
<line x1="73.6" y1="1081.5" x2="76.1" y2="1081.5" stroke="#000000" stroke-width="1.3"/>
<line x1="73.6" y1="1143.5" x2="76.1" y2="1143.5" stroke="#000000" stroke-width="1.3"/>
<line x1="73.6" y1="1205.5" x2="76.1" y2="1205.5" stroke="#000000" stroke-width="1.3"/>
<line x1="73.6" y1="1268" x2="76.1" y2="1268" stroke="#000000" stroke-width="1.3"/>
<text x="65.8" y="1057.3" font-size="16.5" text-anchor="end" stroke="#000" stroke-width="0.35">100</text>
<text x="65.8" y="1119" font-size="16.5" text-anchor="end" stroke="#000" stroke-width="0.35">75</text>
<text x="65.8" y="1180.6" font-size="16.5" text-anchor="end" stroke="#000" stroke-width="0.35">50</text>
<text x="65.8" y="1243" font-size="16.5" text-anchor="end" stroke="#000" stroke-width="0.35">25</text>
<text x="65.8" y="1305" font-size="16.5" text-anchor="end" stroke="#000" stroke-width="0.35">0</text>
<text x="0" y="0" font-size="20" text-anchor="middle" stroke="#000" stroke-width="0.35" transform="translate(26.8,1171) rotate(-90)">Rel. abundance (%)</text>
<line x1="76.1" y1="1299.5" x2="184.8" y2="1187.6" stroke="#000000" stroke-width="1.5"/>
<line x1="184.8" y1="1187.6" x2="642.3" y2="1187.6" stroke="#000000" stroke-width="1.1"/>
<line x1="184.8" y1="1187.6" x2="184.8" y2="1193.6" stroke="#000000" stroke-width="1.3"/>
<line x1="230.55" y1="1187.6" x2="230.55" y2="1190.6" stroke="#000000" stroke-width="1.3"/>
<line x1="276.3" y1="1187.6" x2="276.3" y2="1193.6" stroke="#000000" stroke-width="1.3"/>
<line x1="322.05" y1="1187.6" x2="322.05" y2="1190.6" stroke="#000000" stroke-width="1.3"/>
<line x1="367.8" y1="1187.6" x2="367.8" y2="1193.6" stroke="#000000" stroke-width="1.3"/>
<line x1="413.55" y1="1187.6" x2="413.55" y2="1190.6" stroke="#000000" stroke-width="1.3"/>
<line x1="459.3" y1="1187.6" x2="459.3" y2="1193.6" stroke="#000000" stroke-width="1.3"/>
<line x1="505.05" y1="1187.6" x2="505.05" y2="1190.6" stroke="#000000" stroke-width="1.3"/>
<line x1="550.8" y1="1187.6" x2="550.8" y2="1193.6" stroke="#000000" stroke-width="1.3"/>
<line x1="596.55" y1="1187.6" x2="596.55" y2="1190.6" stroke="#000000" stroke-width="1.3"/>
<line x1="642.3" y1="1187.6" x2="642.3" y2="1193.6" stroke="#000000" stroke-width="1.3"/>
<polyline points="184.8,1186.83 185.8,1186.81 186.8,1187.06 187.8,1187.27 188.8,1186.84 189.8,1187.11 190.8,1186.85 191.8,1186.99 192.8,1186.89 193.8,1187.22 194.8,1186.91 195.8,1187.19 196.8,1187.1 197.8,1186.88 198.8,1186.89 199.8,1187.21 200.8,1187.19 201.8,1187.1 202.8,1187.04 203.8,1187.11 204.8,1187.24 205.8,1187.18 206.8,1186.94 207.8,1186.85 208.8,1187.28 209.8,1187.02 210.8,1186.92 211.8,1187.28 212.8,1186.88 213.8,1187.24 214.8,1187 215.8,1187.02 216.8,1186.99 217.8,1187.15 218.8,1187.09 219.8,1187.01 220.8,1187.09 221.8,1186.97 222.8,1187.08 223.8,1187.08 224.8,1187.29 225.8,1186.99 226.8,1187.06 227.8,1187.18 228.8,1186.92 229.8,1186.91 230.8,1187.07 231.8,1187.21 232.8,1187.06 233.8,1187.25 234.8,1187.24 235.8,1187.08 236.8,1187.25 237.8,1187.08 238.8,1187.04 239.8,1187.28 240.8,1186.98 241.8,1187.26 242.8,1186.93 243.8,1186.91 244.8,1187.04 245.8,1187.27 246.8,1187.05 247.8,1187.11 248.8,1186.82 249.8,1187.23 250.8,1186.87 251.8,1186.8 252.8,1186.93 253.8,1186.89 254.8,1187.2 255.8,1186.81 256.8,1187.05 257.8,1186.82 258.8,1186.84 259.8,1187.22 260.8,1186.91 261.8,1186.83 262.8,1187.27 263.8,1187.12 264.8,1186.92 265.8,1187.22 266.8,1186.85 267.8,1187.16 268.8,1186.89 269.8,1187.23 270.8,1187.05 271.8,1186.84 272.8,1187.2 273.8,1187.17 274.8,1187.05 275.8,1187.14 276.8,1187.28 277.8,1187.21 278.8,1187.22 279.8,1186.83 280.8,1186.96 281.8,1186.85 282.8,1187.22 283.8,1186.91 284.8,1187.24 285.8,1187.03 286.8,1186.98 287.8,1187.12 288.8,1186.86 289.8,1187.02 290.8,1187.01 291.8,1186.86 292.8,1187.25 293.8,1186.8 294.8,1186.99 295.8,1187.1 296.8,1186.9 297.8,1187.17 298.8,1186.8 299.8,1187.01 300.8,1187.12 301.8,1186.92 302.8,1187.08 303.8,1187.21 304.8,1186.93 305.8,1187.28 306.8,1186.89 307.8,1187.17 308.8,1186.98 309.8,1186.81 310.8,1187.01 311.8,1186.97 312.8,1187.14 313.8,1187.3 314.8,1187.28 315.8,1187.23 316.8,1186.99 317.8,1187.08 318.8,1187.04 319.8,1186.85 320.8,1187.23 321.8,1187.19 322.8,1186.97 323.8,1187.29 324.8,1187.3 325.8,1187.12 326.8,1187.25 327.8,1187.12 328.8,1187.19 329.8,1187.01 330.8,1187.01 331.8,1187.2 332.8,1186.99 333.8,1187.06 334.8,1187.23 335.8,1186.83 336.8,1187.18 337.8,1187.23 338.8,1187.25 339.8,1186.98 340.8,1186.86 341.8,1186.91 342.8,1187.1 343.8,1187.17 344.8,1187.29 345.8,1186.98 346.8,1187.02 347.8,1187.12 348.8,1186.98 349.8,1187.08 350.8,1186.83 351.8,1186.93 352.8,1187.18 353.8,1186.85 354.8,1187.28 355.8,1187.03 356.8,1187.1 357.8,1187.18 358.8,1187.27 359.8,1186.91 360.8,1187.29 361.8,1187.02 362.8,1186.83 363.8,1187.23 364.8,1187.2 365.8,1187 366.8,1187.05 367.8,1186.98 368.8,1186.89 369.8,1187.21 370.8,1187.15 371.8,1187.15 372.8,1187.28 373.8,1186.86 374.8,1186.91 375.8,1186.94 376.8,1187.3 377.8,1186.88 378.8,1186.93 379.8,1187.07 380.8,1186.93 381.8,1187.07 382.8,1187.19 383.8,1187.25 384.8,1187.18 385.8,1187.28 386.8,1187.13 387.8,1186.93 388.8,1186.95 389.8,1186.88 390.8,1186.94 391.8,1187.17 392.8,1187.02 393.8,1187.08 394.8,1186.91 395.8,1187.04 396.8,1187.17 397.8,1186.98 398.8,1186.82 399.8,1187.19 400.8,1186.86 401.8,1187.29 402.8,1187.17 403.8,1187.18 404.8,1186.93 405.8,1186.83 406.8,1186.93 407.8,1187.14 408.8,1186.86 409.8,1187.14 410.8,1187.18 411.8,1186.85 412.8,1186.98 413.8,1186.95 414.8,1186.97 415.8,1186.81 416.8,1187.07 417.8,1186.88 418.8,1186.95 419.8,1186.87 420.8,1187.08 421.8,1186.94 422.8,1187.01 423.8,1187.15 424.8,1187.19 425.8,1186.99 426.8,1187.26 427.8,1186.84 428.8,1187.23 429.8,1187.29 430.8,1187.25 431.8,1186.84 432.8,1187.13 433.8,1187.23 434.8,1187.29 435.8,1187.28 436.8,1186.95 437.8,1186.98 438.8,1186.95 439.8,1186.93 440.8,1187.27 441.8,1187 442.8,1187.12 443.8,1186.89 444.8,1186.89 445.8,1186.85 446.8,1187.27 447.8,1186.87 448.8,1186.84 449.8,1186.83 450.8,1187.25 451.8,1187.2 452.8,1187.24 453.8,1187.28 454.8,1186.88 455.8,1186.89 456.8,1186.98 457.8,1186.89 458.8,1186.98 459.8,1187.16 460.8,1187.25 461.8,1187.25 462.8,1186.92 463.8,1187.2 464.8,1187.14 465.8,1187.09 466.8,1187.29 467.8,1187.17 468.8,1187.16 469.8,1186.94 470.8,1187.12 471.8,1187.14 472.8,1186.82 473.8,1187.05 474.8,1186.87 475.8,1186.99 476.8,1187.28 477.8,1187.09 478.8,1187.08 479.8,1186.91 480.8,1187.13 481.8,1186.95 482.8,1187.03 483.8,1187.19 484.8,1186.87 485.8,1187.25 486.8,1186.89 487.8,1187.21 488.8,1187.3 489.8,1187.2 490.8,1186.92 491.8,1186.81 492.8,1187.3 493.8,1187.05 494.8,1187.05 495.8,1186.9 496.8,1187.21 497.8,1187.05 498.8,1187.13 499.8,1186.88 500.8,1187.17 501.8,1186.83 502.8,1187.16 503.8,1187.19 504.8,1186.95 505.8,1187.05 506.8,1187.25 507.8,1186.98 508.8,1187.26 509.8,1186.91 510.8,1186.95 511.8,1186.91 512.8,1186.99 513.8,1187.12 514.8,1187.1 515.8,1187.1 516.8,1186.85 517.8,1187.26 518.8,1186.86 519.8,1187.29 520.8,1187.2 521.8,1187.17 522.8,1186.85 523.8,1187.05 524.8,1187.11 525.8,1186.86 526.8,1187.18 527.8,1187.07 528.8,1187.03 529.8,1186.92 530.8,1186.92 531.8,1186.98 532.8,1187.13 533.8,1187.14 534.8,1187.22 535.8,1186.88 536.8,1186.97 537.8,1186.93 538.8,1187.22 539.8,1187.08 540.8,1186.91 541.8,1187.01 542.8,1187.24 543.8,1187.07 544.8,1186.86 545.8,1187.18 546.8,1187.2 547.8,1187.15 548.8,1186.95 549.8,1186.88 550.8,1187.22 551.8,1187.22 552.8,1187.18 553.8,1187.14 554.8,1187.04 555.8,1187.22 556.8,1187.14 557.8,1187.21 558.8,1186.81 559.8,1186.94 560.8,1187.25 561.8,1186.82 562.8,1187.25 563.8,1187.11 564.8,1186.81 565.8,1186.9 566.8,1186.93 567.8,1187.08 568.8,1187.2 569.8,1186.98 570.8,1187.25 571.8,1187.2 572.8,1187.11 573.8,1187.28 574.8,1187.1 575.8,1186.9 576.8,1186.95 577.8,1187.05 578.8,1186.98 579.8,1187.07 580.8,1187.23 581.8,1187 582.8,1187.1 583.8,1186.93 584.8,1186.85 585.8,1187.08 586.8,1187.01 587.8,1186.93 588.8,1187.09 589.8,1187.19 590.8,1186.94 591.8,1186.86 592.8,1186.91 593.8,1186.95 594.8,1186.87 595.8,1186.96 596.8,1186.98 597.8,1187.07 598.8,1187.14 599.8,1186.99 600.8,1187.25 601.8,1187.09 602.8,1186.91 603.8,1186.94 604.8,1186.99 605.8,1187.17 606.8,1187.09 607.8,1187.07 608.8,1186.99 609.8,1187.1 610.8,1186.96 611.8,1186.83 612.8,1187.21 613.8,1186.97 614.8,1186.91 615.8,1187.11 616.8,1187.06 617.8,1186.81 618.8,1187.28 619.8,1187.03 620.8,1187.22 621.8,1186.91 622.8,1186.83 623.8,1187.04 624.8,1187.25 625.8,1187.01 626.8,1187.03 627.8,1186.94 628.8,1187.04 629.8,1186.98 630.8,1186.89 631.8,1187.04 632.8,1187.09 633.8,1186.83 634.8,1187.19 635.8,1186.96 636.8,1187.1 637.8,1186.92 638.8,1187.24 639.8,1186.81 640.8,1187.12 641.8,1187.27" fill="none" stroke="#008000" stroke-width="1.3"/>
<polyline points="246.3,1187.6 246.3,1187.6 246.9,1181.46 247.5,1171.55 248.1,1169.06 248.7,1144.56 249.3,1124.34 249.9,1102.98 250.5,1104.61 251.1,1023.25 251.7,1042.96 252.3,1003.96 252.9,1045.76 253.5,991.4 254.1,996.35 254.7,957.11 255.3,1047.42 255.9,1011.95 256.5,1037.39 257.1,1027.84 257.7,1081.56 258.3,1071.31 258.9,1100.4 259.5,1084.05 260.1,1116.04 260.7,1126.86 261.3,1145.03 261.9,1142.49 262.5,1154.48 263.1,1153.99 263.7,1167.24 264.3,1163.01 264.9,1173.89 265.5,1170.03 266.1,1177.57 266.7,1174.92 267.3,1179.98 267.9,1178.27 268.5,1182.08 269.1,1181.17 269.7,1184.23 270.3,1183.68 270.9,1184.52 271.5,1184.32 272.1,1185.54 272.7,1185.03 273.3,1185.89 273.9,1185.73 274.5,1186.38 275.1,1186.43 275.7,1187.03 276.3,1187.16 276.9,1187.55 277,1187.6" fill="none" stroke="#008000" stroke-width="0.9" stroke-linejoin="bevel"/>
<path d="M246.3,1187.6 L248.5,1160.74 L249.2,1121.3 L250.2,1108.38 L251,1040.63 L253.1,1024.83 L254,994.14 L254.5,975.52 L255,994.14 L255.8,1028.14 L256.6,1031.88 L258,1082.54 L259.7,1096.14 L260.3,1128.44 L262,1150.03 L264,1164.39 L266,1175.19 L270,1183.86 L277,1187.6 Z M248.5,1187.6 L249.5,1170 L250.6,1150 L251.5,1130 L252.5,1120 L253.5,1122 L255,1135 L257.3,1150 L258.5,1163 L260,1175 L262,1182 L266,1187.6 Z" fill="#008000" fill-rule="evenodd"/>
<line x1="252.26" y1="1025.67" x2="252.26" y2="1058.88" stroke="#fcfcfc" stroke-width="0.54" stroke-opacity="0.75"/>
<line x1="253.12" y1="1007.82" x2="253.12" y2="1077.12" stroke="#fcfcfc" stroke-width="0.51" stroke-opacity="0.75"/>
<line x1="252.7" y1="1009.37" x2="252.7" y2="1067.37" stroke="#fcfcfc" stroke-width="0.44" stroke-opacity="0.75"/>
<line x1="251.76" y1="1058.54" x2="251.76" y2="1089.58" stroke="#fcfcfc" stroke-width="0.61" stroke-opacity="0.75"/>
<line x1="256.64" y1="1066.58" x2="256.64" y2="1102.07" stroke="#fcfcfc" stroke-width="0.52" stroke-opacity="0.75"/>
<line x1="257.36" y1="1055.7" x2="257.36" y2="1098.97" stroke="#fcfcfc" stroke-width="0.44" stroke-opacity="0.75"/>
<line x1="253.36" y1="998.3" x2="253.36" y2="1048.88" stroke="#fcfcfc" stroke-width="0.54" stroke-opacity="0.75"/>
<polygon points="335,1187.6 350,1186.6 365,1185.9 380,1185 392,1184 400,1183.4 406,1184 410,1186 413,1187.6" fill="#008000"/>
<line x1="167.2" y1="1205.4" x2="624.7" y2="1205.4" stroke="#000000" stroke-width="1.1"/>
<line x1="167.2" y1="1205.4" x2="167.2" y2="1211.4" stroke="#000000" stroke-width="1.3"/>
<line x1="212.95" y1="1205.4" x2="212.95" y2="1208.4" stroke="#000000" stroke-width="1.3"/>
<line x1="258.7" y1="1205.4" x2="258.7" y2="1211.4" stroke="#000000" stroke-width="1.3"/>
<line x1="304.45" y1="1205.4" x2="304.45" y2="1208.4" stroke="#000000" stroke-width="1.3"/>
<line x1="350.2" y1="1205.4" x2="350.2" y2="1211.4" stroke="#000000" stroke-width="1.3"/>
<line x1="395.95" y1="1205.4" x2="395.95" y2="1208.4" stroke="#000000" stroke-width="1.3"/>
<line x1="441.7" y1="1205.4" x2="441.7" y2="1211.4" stroke="#000000" stroke-width="1.3"/>
<line x1="487.45" y1="1205.4" x2="487.45" y2="1208.4" stroke="#000000" stroke-width="1.3"/>
<line x1="533.2" y1="1205.4" x2="533.2" y2="1211.4" stroke="#000000" stroke-width="1.3"/>
<line x1="578.95" y1="1205.4" x2="578.95" y2="1208.4" stroke="#000000" stroke-width="1.3"/>
<line x1="624.7" y1="1205.4" x2="624.7" y2="1211.4" stroke="#000000" stroke-width="1.3"/>
<polyline points="167.2,1205.08 168.2,1204.85 169.2,1204.83 170.2,1204.86 171.2,1205.06 172.2,1204.85 173.2,1204.91 174.2,1205.1 175.2,1205.1 176.2,1204.81 177.2,1204.9 178.2,1205.02 179.2,1205.07 180.2,1205.06 181.2,1205.03 182.2,1204.87 183.2,1205 184.2,1205.05 185.2,1204.83 186.2,1204.86 187.2,1205.05 188.2,1204.83 189.2,1204.92 190.2,1204.87 191.2,1204.9 192.2,1204.83 193.2,1204.86 194.2,1204.85 195.2,1205.04 196.2,1204.89 197.2,1204.94 198.2,1204.88 199.2,1204.97 200.2,1204.84 201.2,1204.93 202.2,1205.02 203.2,1205.03 204.2,1205.06 205.2,1204.95 206.2,1205.08 207.2,1204.96 208.2,1205.06 209.2,1204.95 210.2,1204.95 211.2,1204.94 212.2,1204.84 213.2,1205.1 214.2,1204.85 215.2,1204.96 216.2,1204.93 217.2,1204.9 218.2,1204.85 219.2,1204.99 220.2,1204.97 221.2,1204.81 222.2,1205.08 223.2,1204.91 224.2,1204.91 225.2,1205.09 226.2,1204.92 227.2,1204.9 228.2,1204.82 229.2,1205 230.2,1204.81 231.2,1204.95 232.2,1204.95 233.2,1204.83 234.2,1205.09 235.2,1204.88 236.2,1204.91 237.2,1205 238.2,1204.84 239.2,1204.99 240.2,1204.96 241.2,1204.94 242.2,1204.87 243.2,1205.04 244.2,1204.97 245.2,1204.97 246.2,1204.93 247.2,1204.85 248.2,1205.01 249.2,1204.85 250.2,1204.98 251.2,1204.95 252.2,1205.02 253.2,1204.95 254.2,1204.81 255.2,1204.9 256.2,1204.86 257.2,1205 258.2,1205 259.2,1205.01 260.2,1204.92 261.2,1204.91 262.2,1204.86 263.2,1205.09 264.2,1204.88 265.2,1204.83 266.2,1204.94 267.2,1205.09 268.2,1205.01 269.2,1205.1 270.2,1205.04 271.2,1204.82 272.2,1204.92 273.2,1204.9 274.2,1204.86 275.2,1204.83 276.2,1204.92 277.2,1204.91 278.2,1204.91 279.2,1204.89 280.2,1204.92 281.2,1204.9 282.2,1205.04 283.2,1204.9 284.2,1204.96 285.2,1204.87 286.2,1205.07 287.2,1205.05 288.2,1205.09 289.2,1204.87 290.2,1204.83 291.2,1204.9 292.2,1204.99 293.2,1204.85 294.2,1204.86 295.2,1204.93 296.2,1205.02 297.2,1205.01 298.2,1204.97 299.2,1205 300.2,1204.97 301.2,1204.91 302.2,1204.82 303.2,1205.08 304.2,1204.93 305.2,1205.09 306.2,1205.06 307.2,1204.86 308.2,1204.93 309.2,1204.82 310.2,1204.97 311.2,1205.1 312.2,1204.98 313.2,1204.92 314.2,1204.82 315.2,1204.81 316.2,1204.96 317.2,1204.98 318.2,1205.07 319.2,1204.91 320.2,1205.04 321.2,1205.05 322.2,1205.1 323.2,1205.1 324.2,1204.89 325.2,1205.06 326.2,1204.81 327.2,1205.07 328.2,1204.84 329.2,1205.06 330.2,1205.09 331.2,1204.88 332.2,1205.03 333.2,1204.88 334.2,1205.04 335.2,1205.08 336.2,1204.87 337.2,1204.89 338.2,1204.84 339.2,1204.88 340.2,1205.07 341.2,1204.91 342.2,1204.89 343.2,1204.96 344.2,1204.82 345.2,1205.02 346.2,1204.81 347.2,1204.88 348.2,1205.1 349.2,1205.1 350.2,1204.9 351.2,1204.85 352.2,1205.08 353.2,1205.01 354.2,1204.88 355.2,1205.05 356.2,1204.84 357.2,1204.95 358.2,1205.08 359.2,1204.99 360.2,1204.93 361.2,1204.97 362.2,1204.9 363.2,1205.06 364.2,1204.86 365.2,1204.99 366.2,1204.91 367.2,1204.91 368.2,1204.97 369.2,1204.98 370.2,1204.86 371.2,1204.82 372.2,1204.86 373.2,1204.93 374.2,1205.01 375.2,1205.08 376.2,1204.81 377.2,1204.89 378.2,1204.85 379.2,1205 380.2,1204.92 381.2,1204.81 382.2,1204.85 383.2,1204.92 384.2,1205.01 385.2,1204.97 386.2,1204.83 387.2,1204.99 388.2,1204.89 389.2,1204.92 390.2,1204.83 391.2,1204.86 392.2,1205.02 393.2,1205.1 394.2,1205.02 395.2,1204.97 396.2,1204.92 397.2,1204.86 398.2,1204.83 399.2,1205.09 400.2,1204.85 401.2,1204.86 402.2,1204.84 403.2,1204.93 404.2,1205.02 405.2,1204.84 406.2,1204.86 407.2,1204.89 408.2,1204.83 409.2,1205 410.2,1205.07 411.2,1204.93 412.2,1204.86 413.2,1205.04 414.2,1204.87 415.2,1204.82 416.2,1205.03 417.2,1204.92 418.2,1204.9 419.2,1204.96 420.2,1205.04 421.2,1205.02 422.2,1204.87 423.2,1204.86 424.2,1204.96 425.2,1205.07 426.2,1204.86 427.2,1204.87 428.2,1205.03 429.2,1204.93 430.2,1204.83 431.2,1204.83 432.2,1204.94 433.2,1204.96 434.2,1204.92 435.2,1205.04 436.2,1205.04 437.2,1205.05 438.2,1204.89 439.2,1204.99 440.2,1204.93 441.2,1204.98 442.2,1204.94 443.2,1205.06 444.2,1205.09 445.2,1204.8 446.2,1204.99 447.2,1205.07 448.2,1204.91 449.2,1204.86 450.2,1205.05 451.2,1204.92 452.2,1205 453.2,1204.94 454.2,1205.09 455.2,1205.09 456.2,1204.8 457.2,1204.84 458.2,1204.95 459.2,1204.93 460.2,1205.02 461.2,1204.87 462.2,1204.97 463.2,1204.82 464.2,1204.87 465.2,1204.85 466.2,1204.81 467.2,1205.02 468.2,1205.09 469.2,1205.04 470.2,1205.05 471.2,1205.07 472.2,1205.08 473.2,1204.93 474.2,1204.84 475.2,1204.96 476.2,1204.82 477.2,1204.83 478.2,1205.08 479.2,1204.92 480.2,1204.98 481.2,1205.06 482.2,1204.81 483.2,1205.02 484.2,1204.93 485.2,1204.91 486.2,1204.81 487.2,1204.9 488.2,1204.98 489.2,1204.97 490.2,1205.05 491.2,1204.81 492.2,1204.8 493.2,1205.03 494.2,1205.09 495.2,1205.02 496.2,1204.99 497.2,1204.83 498.2,1204.83 499.2,1204.85 500.2,1205.09 501.2,1204.86 502.2,1204.89 503.2,1204.91 504.2,1204.8 505.2,1205.08 506.2,1205.06 507.2,1204.87 508.2,1204.82 509.2,1204.9 510.2,1205.01 511.2,1204.92 512.2,1204.87 513.2,1205.07 514.2,1205 515.2,1205.02 516.2,1205.06 517.2,1204.96 518.2,1205.05 519.2,1205.03 520.2,1205.06 521.2,1204.9 522.2,1205.1 523.2,1204.88 524.2,1205.04 525.2,1205.09 526.2,1204.82 527.2,1205.03 528.2,1204.82 529.2,1204.84 530.2,1204.83 531.2,1205.06 532.2,1204.97 533.2,1205.07 534.2,1204.82 535.2,1204.85 536.2,1204.91 537.2,1204.96 538.2,1205 539.2,1204.85 540.2,1204.96 541.2,1204.91 542.2,1205.06 543.2,1205.03 544.2,1205.08 545.2,1204.89 546.2,1204.93 547.2,1205.06 548.2,1204.84 549.2,1205.02 550.2,1204.98 551.2,1205.05 552.2,1205.02 553.2,1204.85 554.2,1205 555.2,1205.05 556.2,1204.95 557.2,1205 558.2,1204.83 559.2,1205.07 560.2,1204.81 561.2,1205.08 562.2,1204.83 563.2,1204.9 564.2,1205.04 565.2,1204.96 566.2,1205.01 567.2,1205.02 568.2,1205.04 569.2,1204.99 570.2,1204.8 571.2,1204.8 572.2,1204.82 573.2,1205.07 574.2,1205.01 575.2,1204.83 576.2,1205.08 577.2,1204.88 578.2,1205.01 579.2,1204.81 580.2,1205.1 581.2,1204.86 582.2,1205 583.2,1205.06 584.2,1205.1 585.2,1204.85 586.2,1204.94 587.2,1205.04 588.2,1204.97 589.2,1204.83 590.2,1205.03 591.2,1204.93 592.2,1205.06 593.2,1205.05 594.2,1204.87 595.2,1204.89 596.2,1205.04 597.2,1205.08 598.2,1205.07 599.2,1204.92 600.2,1204.95 601.2,1205.02 602.2,1205.04 603.2,1204.92 604.2,1204.89 605.2,1204.86 606.2,1204.93 607.2,1205.04 608.2,1205.08 609.2,1204.88 610.2,1204.98 611.2,1204.88 612.2,1205.08 613.2,1204.86 614.2,1205 615.2,1204.85 616.2,1204.84 617.2,1204.95 618.2,1205.1 619.2,1204.83 620.2,1204.96 621.2,1204.84 622.2,1205.02 623.2,1205.04 624.2,1204.85" fill="none" stroke="#8a8a8a" stroke-width="1.3"/>
<polyline points="208,1205.4 208,1205.4 208.6,1201.53 209.2,1190.96 209.8,1184.47 210.4,1168.65 211,1166.86 211.6,1137.77 212.2,1139.14 212.8,1104.36 213.4,1104.17 214,1061.49 214.6,1088.48 215.2,1080.1 215.8,1085.52 216.4,1035.68 217,1003.29 217.6,1017.24 218.2,1054.48 218.8,1037.21 219.4,1077.31 220,1026.24 220.6,1068.83 221.2,1031.32 221.8,1088.22 222.4,1017.23 223,1095.8 223.6,1069.41 224.2,1123.33 224.8,1091.21 225.4,1113.82 226,1111.74 226.6,1148.67 227.2,1125.27 227.8,1155.64 228.4,1140.04 229,1155.99 229.6,1148.63 230.2,1166.08 230.8,1158.51 231.4,1178.16 232,1167.01 232.6,1178.03 233.2,1177.77 233.8,1189.52 234.4,1185.66 235,1191.81 235.6,1189.48 236.2,1195.79 236.8,1192.41 237.4,1197.77 238,1195.35 238.6,1198.04 239.2,1198.68 239.8,1201.19 240.4,1201.53 241,1203.76 241.6,1203.27 242.2,1203.87 242.8,1204.06 243.4,1204.67 244,1204.77 244.6,1205.21 245,1205.4" fill="none" stroke="#8a8a8a" stroke-width="0.9" stroke-linejoin="bevel"/>
<path d="M208,1205.4 L208.9,1198.2 L211,1164.04 L213.2,1109.32 L214.2,1083.64 L215,1105.08 L216.3,1073.08 L217,1005.88 L217.8,1057.08 L219,1073.08 L220.2,1053.8 L221,1065.08 L222.1,1045.24 L223,1073.08 L223.8,1095.64 L227,1138.36 L230.3,1164.04 L234.5,1189.64 L240.9,1203.32 L245,1205.4 Z M209.5,1205.4 L211,1190 L213,1170 L215.5,1155 L217,1151.7 L220,1153 L222.5,1160 L223.6,1185 L225.8,1200 L227,1205.4 Z" fill="#8a8a8a" fill-rule="evenodd"/>
<line x1="214.18" y1="1080.3" x2="214.18" y2="1125.45" stroke="#fcfcfc" stroke-width="0.49" stroke-opacity="0.75"/>
<line x1="217.89" y1="1063.99" x2="217.89" y2="1122.48" stroke="#fcfcfc" stroke-width="0.59" stroke-opacity="0.75"/>
<line x1="215.12" y1="1090.72" x2="215.12" y2="1123.34" stroke="#fcfcfc" stroke-width="0.46" stroke-opacity="0.75"/>
<line x1="218.81" y1="1081.53" x2="218.81" y2="1112.66" stroke="#fcfcfc" stroke-width="0.53" stroke-opacity="0.75"/>
<line x1="217.32" y1="993.59" x2="217.32" y2="1038.93" stroke="#fcfcfc" stroke-width="0.67" stroke-opacity="0.75"/>
<line x1="216.92" y1="1032.63" x2="216.92" y2="1101.5" stroke="#fcfcfc" stroke-width="0.61" stroke-opacity="0.75"/>
<line x1="214.8" y1="1100" x2="214.8" y2="1140" stroke="#b4b4b4" stroke-width="0.8"/>
<line x1="218.3" y1="1060" x2="218.3" y2="1120" stroke="#b4b4b4" stroke-width="0.8"/>
<line x1="221.2" y1="1050" x2="221.2" y2="1100" stroke="#b4b4b4" stroke-width="0.8"/>
<line x1="224.5" y1="1090" x2="224.5" y2="1130" stroke="#b4b4b4" stroke-width="0.8"/>
<line x1="216.5" y1="1120" x2="216.5" y2="1148" stroke="#b4b4b4" stroke-width="0.8"/>
<line x1="149.9" y1="1223.2" x2="607.4" y2="1223.2" stroke="#000000" stroke-width="1.1"/>
<line x1="149.9" y1="1223.2" x2="149.9" y2="1229.2" stroke="#000000" stroke-width="1.3"/>
<line x1="195.65" y1="1223.2" x2="195.65" y2="1226.2" stroke="#000000" stroke-width="1.3"/>
<line x1="241.4" y1="1223.2" x2="241.4" y2="1229.2" stroke="#000000" stroke-width="1.3"/>
<line x1="287.15" y1="1223.2" x2="287.15" y2="1226.2" stroke="#000000" stroke-width="1.3"/>
<line x1="332.9" y1="1223.2" x2="332.9" y2="1229.2" stroke="#000000" stroke-width="1.3"/>
<line x1="378.65" y1="1223.2" x2="378.65" y2="1226.2" stroke="#000000" stroke-width="1.3"/>
<line x1="424.4" y1="1223.2" x2="424.4" y2="1229.2" stroke="#000000" stroke-width="1.3"/>
<line x1="470.15" y1="1223.2" x2="470.15" y2="1226.2" stroke="#000000" stroke-width="1.3"/>
<line x1="515.9" y1="1223.2" x2="515.9" y2="1229.2" stroke="#000000" stroke-width="1.3"/>
<line x1="561.65" y1="1223.2" x2="561.65" y2="1226.2" stroke="#000000" stroke-width="1.3"/>
<line x1="607.4" y1="1223.2" x2="607.4" y2="1229.2" stroke="#000000" stroke-width="1.3"/>
<polyline points="149.9,1222.78 150.9,1222.62 151.9,1222.67 152.9,1222.8 153.9,1222.83 154.9,1222.8 155.9,1222.77 156.9,1222.61 157.9,1222.66 158.9,1222.63 159.9,1222.66 160.9,1222.65 161.9,1222.88 162.9,1222.74 163.9,1222.61 164.9,1222.62 165.9,1222.83 166.9,1222.77 167.9,1222.71 168.9,1222.79 169.9,1222.74 170.9,1222.88 171.9,1222.77 172.9,1222.75 173.9,1222.89 174.9,1222.86 175.9,1222.61 176.9,1222.67 177.9,1222.62 178.9,1222.71 179.9,1222.66 180.9,1222.63 181.9,1222.63 182.9,1222.89 183.9,1222.71 184.9,1222.82 185.9,1222.7 186.9,1222.82 187.9,1222.74 188.9,1222.62 189.9,1222.71 190.9,1222.82 191.9,1222.74 192.9,1222.77 193.9,1222.61 194.9,1222.81 195.9,1222.81 196.9,1222.71 197.9,1222.86 198.9,1222.72 199.9,1222.61 200.9,1222.75 201.9,1222.82 202.9,1222.76 203.9,1222.74 204.9,1222.86 205.9,1222.86 206.9,1222.86 207.9,1222.81 208.9,1222.78 209.9,1222.81 210.9,1222.83 211.9,1222.87 212.9,1222.74 213.9,1222.65 214.9,1222.72 215.9,1222.73 216.9,1222.7 217.9,1222.84 218.9,1222.69 219.9,1222.76 220.9,1222.74 221.9,1222.72 222.9,1222.76 223.9,1222.81 224.9,1222.83 225.9,1222.83 226.9,1222.75 227.9,1222.79 228.9,1222.72 229.9,1222.9 230.9,1222.79 231.9,1222.64 232.9,1222.83 233.9,1222.73 234.9,1222.75 235.9,1222.81 236.9,1222.6 237.9,1222.81 238.9,1222.67 239.9,1222.85 240.9,1222.88 241.9,1222.64 242.9,1222.77 243.9,1222.88 244.9,1222.78 245.9,1222.77 246.9,1222.68 247.9,1222.87 248.9,1222.83 249.9,1222.61 250.9,1222.68 251.9,1222.85 252.9,1222.8 253.9,1222.79 254.9,1222.7 255.9,1222.72 256.9,1222.65 257.9,1222.65 258.9,1222.74 259.9,1222.68 260.9,1222.68 261.9,1222.67 262.9,1222.76 263.9,1222.66 264.9,1222.69 265.9,1222.63 266.9,1222.86 267.9,1222.64 268.9,1222.9 269.9,1222.67 270.9,1222.72 271.9,1222.75 272.9,1222.61 273.9,1222.73 274.9,1222.77 275.9,1222.66 276.9,1222.64 277.9,1222.72 278.9,1222.79 279.9,1222.76 280.9,1222.76 281.9,1222.68 282.9,1222.81 283.9,1222.78 284.9,1222.73 285.9,1222.78 286.9,1222.8 287.9,1222.66 288.9,1222.65 289.9,1222.75 290.9,1222.77 291.9,1222.84 292.9,1222.81 293.9,1222.86 294.9,1222.73 295.9,1222.73 296.9,1222.87 297.9,1222.62 298.9,1222.8 299.9,1222.65 300.9,1222.65 301.9,1222.61 302.9,1222.84 303.9,1222.77 304.9,1222.63 305.9,1222.9 306.9,1222.89 307.9,1222.73 308.9,1222.75 309.9,1222.62 310.9,1222.67 311.9,1222.74 312.9,1222.6 313.9,1222.74 314.9,1222.74 315.9,1222.69 316.9,1222.78 317.9,1222.79 318.9,1222.72 319.9,1222.79 320.9,1222.62 321.9,1222.7 322.9,1222.74 323.9,1222.87 324.9,1222.79 325.9,1222.78 326.9,1222.73 327.9,1222.73 328.9,1222.64 329.9,1222.61 330.9,1222.75 331.9,1222.77 332.9,1222.71 333.9,1222.6 334.9,1222.8 335.9,1222.74 336.9,1222.66 337.9,1222.85 338.9,1222.8 339.9,1222.61 340.9,1222.65 341.9,1222.75 342.9,1222.87 343.9,1222.63 344.9,1222.69 345.9,1222.65 346.9,1222.6 347.9,1222.63 348.9,1222.77 349.9,1222.85 350.9,1222.81 351.9,1222.75 352.9,1222.75 353.9,1222.84 354.9,1222.85 355.9,1222.71 356.9,1222.72 357.9,1222.79 358.9,1222.6 359.9,1222.71 360.9,1222.89 361.9,1222.78 362.9,1222.66 363.9,1222.81 364.9,1222.69 365.9,1222.9 366.9,1222.81 367.9,1222.65 368.9,1222.72 369.9,1222.7 370.9,1222.84 371.9,1222.75 372.9,1222.73 373.9,1222.82 374.9,1222.71 375.9,1222.74 376.9,1222.6 377.9,1222.73 378.9,1222.78 379.9,1222.86 380.9,1222.85 381.9,1222.67 382.9,1222.87 383.9,1222.87 384.9,1222.85 385.9,1222.74 386.9,1222.65 387.9,1222.72 388.9,1222.66 389.9,1222.88 390.9,1222.9 391.9,1222.67 392.9,1222.8 393.9,1222.69 394.9,1222.79 395.9,1222.85 396.9,1222.82 397.9,1222.87 398.9,1222.63 399.9,1222.73 400.9,1222.8 401.9,1222.77 402.9,1222.78 403.9,1222.88 404.9,1222.63 405.9,1222.73 406.9,1222.61 407.9,1222.77 408.9,1222.71 409.9,1222.83 410.9,1222.89 411.9,1222.62 412.9,1222.64 413.9,1222.81 414.9,1222.63 415.9,1222.66 416.9,1222.81 417.9,1222.72 418.9,1222.61 419.9,1222.75 420.9,1222.62 421.9,1222.83 422.9,1222.78 423.9,1222.68 424.9,1222.83 425.9,1222.81 426.9,1222.64 427.9,1222.75 428.9,1222.66 429.9,1222.83 430.9,1222.85 431.9,1222.79 432.9,1222.84 433.9,1222.61 434.9,1222.81 435.9,1222.73 436.9,1222.87 437.9,1222.74 438.9,1222.78 439.9,1222.78 440.9,1222.88 441.9,1222.86 442.9,1222.65 443.9,1222.79 444.9,1222.83 445.9,1222.84 446.9,1222.81 447.9,1222.83 448.9,1222.89 449.9,1222.7 450.9,1222.8 451.9,1222.85 452.9,1222.69 453.9,1222.87 454.9,1222.82 455.9,1222.65 456.9,1222.86 457.9,1222.77 458.9,1222.65 459.9,1222.66 460.9,1222.85 461.9,1222.79 462.9,1222.68 463.9,1222.79 464.9,1222.61 465.9,1222.84 466.9,1222.61 467.9,1222.75 468.9,1222.83 469.9,1222.76 470.9,1222.86 471.9,1222.69 472.9,1222.82 473.9,1222.63 474.9,1222.72 475.9,1222.79 476.9,1222.83 477.9,1222.72 478.9,1222.84 479.9,1222.64 480.9,1222.86 481.9,1222.75 482.9,1222.74 483.9,1222.82 484.9,1222.67 485.9,1222.78 486.9,1222.7 487.9,1222.73 488.9,1222.81 489.9,1222.78 490.9,1222.87 491.9,1222.85 492.9,1222.64 493.9,1222.8 494.9,1222.7 495.9,1222.87 496.9,1222.73 497.9,1222.79 498.9,1222.75 499.9,1222.81 500.9,1222.88 501.9,1222.81 502.9,1222.83 503.9,1222.86 504.9,1222.68 505.9,1222.82 506.9,1222.78 507.9,1222.63 508.9,1222.67 509.9,1222.64 510.9,1222.64 511.9,1222.86 512.9,1222.82 513.9,1222.89 514.9,1222.7 515.9,1222.7 516.9,1222.79 517.9,1222.78 518.9,1222.7 519.9,1222.69 520.9,1222.83 521.9,1222.65 522.9,1222.79 523.9,1222.71 524.9,1222.85 525.9,1222.87 526.9,1222.63 527.9,1222.68 528.9,1222.69 529.9,1222.89 530.9,1222.89 531.9,1222.85 532.9,1222.84 533.9,1222.81 534.9,1222.79 535.9,1222.89 536.9,1222.81 537.9,1222.71 538.9,1222.85 539.9,1222.65 540.9,1222.73 541.9,1222.69 542.9,1222.82 543.9,1222.77 544.9,1222.69 545.9,1222.8 546.9,1222.9 547.9,1222.65 548.9,1222.67 549.9,1222.81 550.9,1222.89 551.9,1222.64 552.9,1222.72 553.9,1222.89 554.9,1222.83 555.9,1222.87 556.9,1222.66 557.9,1222.84 558.9,1222.63 559.9,1222.68 560.9,1222.87 561.9,1222.69 562.9,1222.78 563.9,1222.68 564.9,1222.65 565.9,1222.82 566.9,1222.87 567.9,1222.62 568.9,1222.77 569.9,1222.62 570.9,1222.69 571.9,1222.68 572.9,1222.65 573.9,1222.71 574.9,1222.76 575.9,1222.88 576.9,1222.69 577.9,1222.77 578.9,1222.75 579.9,1222.62 580.9,1222.86 581.9,1222.67 582.9,1222.89 583.9,1222.69 584.9,1222.66 585.9,1222.82 586.9,1222.74 587.9,1222.61 588.9,1222.71 589.9,1222.74 590.9,1222.83 591.9,1222.88 592.9,1222.79 593.9,1222.78 594.9,1222.84 595.9,1222.81 596.9,1222.86 597.9,1222.69 598.9,1222.7 599.9,1222.83 600.9,1222.83 601.9,1222.75 602.9,1222.77 603.9,1222.62 604.9,1222.79 605.9,1222.81 606.9,1222.63" fill="none" stroke="#ff8000" stroke-width="1.3"/>
<polygon points="356,1223.2 359,1221 362,1220.3 365,1221.2 368,1223.2" fill="#ff8000"/>
<polyline points="199.9,1223.2 199.9,1223.2 200.5,1217.74 201.1,1207.28 201.7,1191.97 202.3,1135.56 202.9,1117.12 203.5,1083.64 204.1,1092.73 204.7,1043.07 205.3,1067.36 205.9,986.01 206.5,1015.64 207.1,993.29 207.7,1068.95 208.3,1023.16 208.9,1096.48 209.5,1058.9 210.1,1115.24 210.7,1086.67 211.3,1117.59 211.9,1107.33 212.5,1156.16 213.1,1136.31 213.7,1165.29 214.3,1159 214.9,1187.48 215.5,1182.81 216.1,1199.86 216.7,1189.02 217.3,1199.14 217.9,1198.31 218.5,1203.82 219.1,1201.43 219.7,1208.5 220.3,1206.92 220.9,1211.65 221.5,1209.75 222.1,1215.15 222.7,1212.75 223.3,1217.42 223.9,1214.85 224.5,1217.58 225.1,1217.36 225.7,1219.06 226.3,1219.31 226.9,1220.81 227.5,1220.22 228.1,1221.46 228.7,1221.05 229.3,1221.66 229.9,1221.75 230.5,1222.48 231.1,1222.61 231.7,1223.04 232,1223.2" fill="none" stroke="#ff8000" stroke-width="0.9" stroke-linejoin="bevel"/>
<path d="M199.9,1223.2 L201,1211.98 L202,1182.23 L202.5,1122.31 L204.6,1069.69 L205.5,1033.48 L206.1,1010.62 L207,1012.23 L207.8,1033.31 L210.4,1095.11 L212.1,1124.17 L213,1143.98 L214,1160.98 L215.5,1186.48 L217.5,1199.23 L220,1207.73 L222.5,1213.68 L226,1219.63 L232,1223.2 Z M203.5,1223.2 L203.8,1207 L204.3,1190 L205.5,1180 L208,1176 L211.5,1176 L213,1180 L214.2,1190 L216.5,1203 L219,1212 L222,1220 L224,1223.2 Z" fill="#ff8000" fill-rule="evenodd"/>
<line x1="204.08" y1="1073.19" x2="204.08" y2="1121.4" stroke="#fcfcfc" stroke-width="0.68" stroke-opacity="0.75"/>
<line x1="208.33" y1="1085.79" x2="208.33" y2="1126.02" stroke="#fcfcfc" stroke-width="0.64" stroke-opacity="0.75"/>
<line x1="210.12" y1="1103.31" x2="210.12" y2="1128.97" stroke="#fcfcfc" stroke-width="0.52" stroke-opacity="0.75"/>
<line x1="208.3" y1="1033.53" x2="208.3" y2="1079.63" stroke="#fcfcfc" stroke-width="0.61" stroke-opacity="0.75"/>
<line x1="206.17" y1="1024.37" x2="206.17" y2="1116.21" stroke="#fcfcfc" stroke-width="0.66" stroke-opacity="0.75"/>
<line x1="203.63" y1="1102.67" x2="203.63" y2="1127.73" stroke="#fcfcfc" stroke-width="0.57" stroke-opacity="0.75"/>
<line x1="131.8" y1="1240.8" x2="589.3" y2="1240.8" stroke="#000000" stroke-width="1.1"/>
<line x1="131.8" y1="1240.8" x2="131.8" y2="1246.8" stroke="#000000" stroke-width="1.3"/>
<line x1="177.55" y1="1240.8" x2="177.55" y2="1243.8" stroke="#000000" stroke-width="1.3"/>
<line x1="223.3" y1="1240.8" x2="223.3" y2="1246.8" stroke="#000000" stroke-width="1.3"/>
<line x1="269.05" y1="1240.8" x2="269.05" y2="1243.8" stroke="#000000" stroke-width="1.3"/>
<line x1="314.8" y1="1240.8" x2="314.8" y2="1246.8" stroke="#000000" stroke-width="1.3"/>
<line x1="360.55" y1="1240.8" x2="360.55" y2="1243.8" stroke="#000000" stroke-width="1.3"/>
<line x1="406.3" y1="1240.8" x2="406.3" y2="1246.8" stroke="#000000" stroke-width="1.3"/>
<line x1="452.05" y1="1240.8" x2="452.05" y2="1243.8" stroke="#000000" stroke-width="1.3"/>
<line x1="497.8" y1="1240.8" x2="497.8" y2="1246.8" stroke="#000000" stroke-width="1.3"/>
<line x1="543.55" y1="1240.8" x2="543.55" y2="1243.8" stroke="#000000" stroke-width="1.3"/>
<line x1="589.3" y1="1240.8" x2="589.3" y2="1246.8" stroke="#000000" stroke-width="1.3"/>
<line x1="131.8" y1="1239.8" x2="412" y2="1239.8" stroke="#9c00cc" stroke-width="2.4"/>
<polyline points="131.8,1238.81 132.4,1238.65 133,1240.16 133.6,1238.93 134.2,1238.84 134.8,1239.02 135.4,1239.85 136,1240.13 136.6,1238.85 137.2,1239.86 137.8,1239.76 138.4,1239.4 139,1239.76 139.6,1238.84 140.2,1240.02 140.8,1240.42 141.4,1239.37 142,1239.24 142.6,1238.86 143.2,1239.09 143.8,1238.69 144.4,1238.61 145,1239.51 145.6,1239.5 146.2,1240.19 146.8,1239.9 147.4,1239.34 148,1240.34 148.6,1239.12 149.2,1240.17 149.8,1239.61 150.4,1238.56 151,1240.32 151.6,1240.42 152.2,1239.62 152.8,1240.12 153.4,1239.05 154,1240.49 154.6,1238.82 155.2,1238.79 155.8,1238.93 156.4,1239.65 157,1239.93 157.6,1239.18 158.2,1239.47 158.8,1239.66 159.4,1239.82 160,1239.62 160.6,1239.17 161.2,1238.85 161.8,1238.69 162.4,1240.17 163,1239.91 163.6,1239.61 164.2,1239.37 164.8,1239.8 165.4,1240.11 166,1240.33 166.6,1239.85 167.2,1239.58 167.8,1238.56 168.4,1238.68 169,1238.77 169.6,1238.55 170.2,1238.58 170.8,1239.26 171.4,1238.88 172,1240.38 172.6,1239.15 173.2,1239.28 173.8,1239.91 174.4,1239.36 175,1238.59 175.6,1239.54 176.2,1239.21 176.8,1239.9 177.4,1239.81 178,1238.73 178.6,1240.44 179.2,1240.12 179.8,1239.14 180.4,1239.61 181,1240.33 181.6,1239.18 182.2,1239.76 182.8,1239.34 183.4,1239.67 184,1239.44 184.6,1239.37 185.2,1239.71 185.8,1240.27 186.4,1240.14 187,1238.72 187.6,1239.4 188.2,1240.28 188.8,1238.78 189.4,1239.99 190,1240.31 190.6,1239.44 191.2,1240 191.8,1239.52 192.4,1239.39 193,1240.05 193.6,1239.35 194.2,1240.27 194.8,1239.47 195.4,1239.32 196,1240.34 196.6,1239.68 197.2,1240.35 197.8,1239.62 198.4,1238.77 199,1239.4 199.6,1239.07 200.2,1238.99 200.8,1240.27 201.4,1238.52 202,1239.06 202.6,1240.3 203.2,1238.84 203.8,1239.72 204.4,1240.16 205,1238.58 205.6,1239.37 206.2,1238.95 206.8,1240.23 207.4,1238.95 208,1240.38 208.6,1240.03 209.2,1239.76 209.8,1240.47 210.4,1239.31 211,1240.07 211.6,1239.9 212.2,1239.09 212.8,1239.65 213.4,1238.72 214,1239.26 214.6,1238.76 215.2,1239.37 215.8,1238.66 216.4,1238.76 217,1240.16 217.6,1239.01 218.2,1239.82 218.8,1238.97 219.4,1239.14 220,1238.85 220.6,1240.25 221.2,1239.75 221.8,1239.03 222.4,1238.6 223,1239.06 223.6,1240.41 224.2,1239.29 224.8,1240.3 225.4,1239.4 226,1238.89 226.6,1240.27 227.2,1238.65 227.8,1239.15 228.4,1239.99 229,1240.11 229.6,1239.61 230.2,1238.82 230.8,1239.34 231.4,1240.27 232,1240.46 232.6,1240.28 233.2,1238.9 233.8,1240.13 234.4,1239.39 235,1239.92 235.6,1239.13 236.2,1239.74 236.8,1240.21 237.4,1238.75 238,1239.42 238.6,1239.12 239.2,1238.88 239.8,1238.6 240.4,1240.47 241,1239.82 241.6,1240.2 242.2,1239.5 242.8,1238.75 243.4,1238.9 244,1240.43 244.6,1240.14 245.2,1238.86 245.8,1239.14 246.4,1239.71 247,1239.55 247.6,1240.18 248.2,1238.81 248.8,1239.71 249.4,1238.75 250,1239.28 250.6,1240.35 251.2,1239.84 251.8,1240.07 252.4,1238.71 253,1239.32 253.6,1240.41 254.2,1240.16 254.8,1239.78 255.4,1239.56 256,1239.35 256.6,1239.72 257.2,1239.79 257.8,1240.49 258.4,1239.34 259,1239.83 259.6,1240.46 260.2,1239.58 260.8,1238.53 261.4,1240.41 262,1240.21 262.6,1239.16 263.2,1239.95 263.8,1239.95 264.4,1239.5 265,1239.98 265.6,1239.36 266.2,1239.44 266.8,1238.59 267.4,1238.52 268,1240.43 268.6,1239.38 269.2,1238.96 269.8,1238.76 270.4,1238.95 271,1239.23 271.6,1239.23 272.2,1239.77 272.8,1239.94 273.4,1238.91 274,1238.75 274.6,1238.62 275.2,1239.14 275.8,1239.89 276.4,1238.97 277,1239.02 277.6,1239.48 278.2,1239.23 278.8,1239.8 279.4,1239.4 280,1239.69 280.6,1240.38 281.2,1239.83 281.8,1239.85 282.4,1238.52 283,1239.54 283.6,1239.77 284.2,1240.01 284.8,1240.03 285.4,1239.8 286,1240.23 286.6,1240.49 287.2,1238.76 287.8,1239.59 288.4,1239.61 289,1239.36 289.6,1239.9 290.2,1240.16 290.8,1240.37 291.4,1239.9 292,1239.88 292.6,1239.05 293.2,1239.4 293.8,1238.63 294.4,1239.82 295,1238.66 295.6,1239.33 296.2,1240.34 296.8,1240.14 297.4,1239.34 298,1238.53 298.6,1239.79 299.2,1238.95 299.8,1239.64 300.4,1238.76 301,1240.36 301.6,1239.53 302.2,1238.7 302.8,1239.95 303.4,1239.98 304,1240.45 304.6,1240.17 305.2,1239.96 305.8,1239.09 306.4,1240.06 307,1239.7 307.6,1240.1 308.2,1239.29 308.8,1238.77 309.4,1239.2 310,1240.11 310.6,1239.03 311.2,1238.57 311.8,1239.3 312.4,1240.34 313,1238.88 313.6,1238.75 314.2,1239.82 314.8,1240.23 315.4,1240.12 316,1239.43 316.6,1238.75 317.2,1239.22 317.8,1238.65 318.4,1240.08 319,1239.85 319.6,1239 320.2,1239.2 320.8,1239.69 321.4,1239.14 322,1239.82 322.6,1240.39 323.2,1239.67 323.8,1240.41 324.4,1239.25 325,1239.83 325.6,1239.51 326.2,1239.3 326.8,1239.99 327.4,1239.57 328,1240.47 328.6,1238.65 329.2,1239.37 329.8,1238.52 330.4,1240.39 331,1239.27 331.6,1239.05 332.2,1239.84 332.8,1240.31 333.4,1240.19 334,1240.21 334.6,1238.97 335.2,1240.32 335.8,1238.87 336.4,1239.65 337,1239.42 337.6,1239.32 338.2,1239.39 338.8,1239.19 339.4,1239.3 340,1239.84 340.6,1239.02 341.2,1239.98 341.8,1239.08 342.4,1238.97 343,1238.95 343.6,1239.88 344.2,1238.95 344.8,1238.55 345.4,1239.59 346,1239.94 346.6,1239.45 347.2,1238.62 347.8,1240.24 348.4,1240.48 349,1239.55 349.6,1239.19 350.2,1238.95 350.8,1239.78 351.4,1238.52 352,1240.04 352.6,1238.99 353.2,1240.32 353.8,1240.44 354.4,1240.23 355,1240.38 355.6,1239.5 356.2,1239.39 356.8,1240.14 357.4,1238.62 358,1239.77 358.6,1240.2 359.2,1240.15 359.8,1239.02 360.4,1238.66 361,1240.18 361.6,1240.44 362.2,1238.94 362.8,1240.01 363.4,1238.54 364,1239.5 364.6,1239.23 365.2,1239.81 365.8,1238.9 366.4,1239.58 367,1239.85 367.6,1238.69 368.2,1240.28 368.8,1239.03 369.4,1240.37 370,1239.21 370.6,1239.7 371.2,1238.77 371.8,1240.38 372.4,1239.37 373,1239.68 373.6,1238.66 374.2,1238.61 374.8,1239.25 375.4,1240.05 376,1240 376.6,1239.98 377.2,1239.63 377.8,1240.04 378.4,1240.09 379,1238.98 379.6,1239.21 380.2,1239.9 380.8,1238.51 381.4,1240.07 382,1239.36 382.6,1240.19 383.2,1238.77 383.8,1238.76 384.4,1239.97 385,1239 385.6,1238.85 386.2,1239.93 386.8,1239.84 387.4,1239.53 388,1238.72 388.6,1240.18 389.2,1239.13 389.8,1239.3 390.4,1239.59 391,1239.34 391.6,1238.73 392.2,1240.08 392.8,1238.73 393.4,1239.78 394,1238.94 394.6,1238.77 395.2,1240.14 395.8,1238.77 396.4,1238.51 397,1239.9 397.6,1240.45 398.2,1240.28 398.8,1238.55 399.4,1240.48 400,1238.68 400.6,1240.2 401.2,1239.03 401.8,1240.3 402.4,1240.16 403,1239.13 403.6,1240.32 404.2,1239.82 404.8,1238.66 405.4,1239.07 406,1238.74 406.6,1238.54 407.2,1240.43 407.8,1240.03 408.4,1238.92 409,1239.12 409.6,1240.42 410.2,1239.49 410.8,1240.04 411.4,1239.64" fill="none" stroke="#9c00cc" stroke-width="1"/>
<line x1="412" y1="1240.4" x2="589.3" y2="1240.4" stroke="#9c00cc" stroke-width="1.2"/>
<polyline points="455,1240.35 455.6,1240.39 456.2,1239.79 456.8,1240.18 457.4,1239.7 458,1240.29 458.6,1239.91 459.2,1240.25 459.8,1239.87 460.4,1240.15 461,1239.36 461.6,1240.16 462.2,1239.07 462.8,1239.43 463.4,1240.16 464,1239.61 464.6,1239.21 465.2,1238.07 465.8,1239.46 466.4,1239.79 467,1237.55 467.6,1237.7 468.2,1238.08 468.8,1239.51 469.4,1239.81 470,1239.5 470.6,1240.16 471.2,1240.25 471.8,1238.62 472.4,1238.97 473,1238.47 473.6,1239.15 474.2,1240.36 474.8,1238.12 475.4,1238.29 476,1238.7 476.6,1238.74 477.2,1238.4 477.8,1237.68 478.4,1238.1 479,1238.61 479.6,1239.46 480.2,1239.7 480.8,1239.54 481.4,1238.56 482,1239.72 482.6,1239.78 483.2,1239.8 483.8,1240.21 484.4,1239.2 485,1240.39 485.6,1239.81 486.2,1239.6 486.8,1240.21 487.4,1239.99 488,1240.18 488.6,1240.28 489.2,1240.31 489.8,1240.35 490.4,1240.12 491,1240.18 491.6,1240.18 492.2,1240.39 492.8,1240.28 493.4,1240.35 494,1240.32 494.6,1240.34 495.2,1240.37 495.8,1240.33 496.4,1240.4 497,1240.37 497.6,1240.37 498.2,1240.38 498.8,1240.39 499.4,1240.38" fill="none" stroke="#9c00cc" stroke-width="0.9"/>
<polyline points="164.3,1240.8 164.3,1240.8 164.9,1227.67 165.5,1203.55 166.1,1190.79 166.7,1116.65 167.3,1111.14 167.9,1023.74 168.5,1049.86 169.1,999.9 169.7,1072.12 170.3,1006.84 170.9,1058.5 171.5,1006.47 172.1,1049.62 172.7,1005.75 173.3,1041.33 173.9,1035.4 174.5,1097.85 175.1,1102.38 175.7,1153.92 176.3,1142.5 176.9,1183.2 177.5,1162.34 178.1,1190.17 178.7,1188.99 179.3,1213.45 179.9,1219.03 180.5,1227.48 181.1,1223.93 181.7,1227.65 182.3,1226.82 182.9,1229.89 183.5,1227.51 184.1,1229.81 184.7,1228.53 185.3,1233.55 185.9,1229.98 186.5,1231.83 187.1,1230.96 187.7,1235.16 188.3,1233.44 188.9,1236.27 189.5,1235.47 190.1,1237.52 190.7,1236.89 191.3,1238.38 191.9,1238.38 192.5,1239.68 193.1,1239.77 193.7,1240.48 194,1240.8" fill="none" stroke="#9c00cc" stroke-width="0.9" stroke-linejoin="bevel"/>
<path d="M164.3,1240.8 L164.6,1235.27 L165.3,1214.62 L165.9,1196.43 L167.5,1069.78 L168.3,1030.17 L169.5,1031.87 L170.5,1037.82 L171.5,1030.17 L172.8,1030.17 L173.8,1054.57 L175.4,1133.95 L176.8,1162.69 L178.4,1188.02 L179.8,1221.76 L182,1228.22 L186.8,1231.88 L190,1236.72 L194,1240.8 Z M167.6,1240.8 L168.6,1215 L169.6,1194 L171,1196 L172.7,1215 L174.5,1240.8 Z" fill="#9c00cc" fill-rule="evenodd"/>
<line x1="174.28" y1="1112.94" x2="174.28" y2="1174" stroke="#fcfcfc" stroke-width="0.67" stroke-opacity="0.75"/>
<line x1="168.42" y1="1065.83" x2="168.42" y2="1107.4" stroke="#fcfcfc" stroke-width="0.67" stroke-opacity="0.75"/>
<line x1="172.16" y1="1009.31" x2="172.16" y2="1065.8" stroke="#fcfcfc" stroke-width="0.46" stroke-opacity="0.75"/>
<line x1="173.5" y1="1041.97" x2="173.5" y2="1094.63" stroke="#fcfcfc" stroke-width="0.51" stroke-opacity="0.75"/>
<line x1="172.17" y1="1029.52" x2="172.17" y2="1077.37" stroke="#fcfcfc" stroke-width="0.6" stroke-opacity="0.75"/>
<line x1="172.38" y1="1044.92" x2="172.38" y2="1083.2" stroke="#fcfcfc" stroke-width="0.68" stroke-opacity="0.75"/>
<line x1="173.3" y1="1065.99" x2="173.3" y2="1132" stroke="#fcfcfc" stroke-width="0.56" stroke-opacity="0.75"/>
<line x1="115" y1="1260.5" x2="572.5" y2="1260.5" stroke="#000000" stroke-width="1.1"/>
<line x1="115" y1="1260.5" x2="115" y2="1266.5" stroke="#000000" stroke-width="1.3"/>
<line x1="160.75" y1="1260.5" x2="160.75" y2="1263.5" stroke="#000000" stroke-width="1.3"/>
<line x1="206.5" y1="1260.5" x2="206.5" y2="1266.5" stroke="#000000" stroke-width="1.3"/>
<line x1="252.25" y1="1260.5" x2="252.25" y2="1263.5" stroke="#000000" stroke-width="1.3"/>
<line x1="298" y1="1260.5" x2="298" y2="1266.5" stroke="#000000" stroke-width="1.3"/>
<line x1="343.75" y1="1260.5" x2="343.75" y2="1263.5" stroke="#000000" stroke-width="1.3"/>
<line x1="389.5" y1="1260.5" x2="389.5" y2="1266.5" stroke="#000000" stroke-width="1.3"/>
<line x1="435.25" y1="1260.5" x2="435.25" y2="1263.5" stroke="#000000" stroke-width="1.3"/>
<line x1="481" y1="1260.5" x2="481" y2="1266.5" stroke="#000000" stroke-width="1.3"/>
<line x1="526.75" y1="1260.5" x2="526.75" y2="1263.5" stroke="#000000" stroke-width="1.3"/>
<line x1="572.5" y1="1260.5" x2="572.5" y2="1266.5" stroke="#000000" stroke-width="1.3"/>
<polyline points="115,1259.78 116,1259.93 117,1259.91 118,1259.72 119,1259.74 120,1260.11 121,1259.79 122,1259.98 123,1259.89 124,1260.06 125,1259.98 126,1260 127,1259.97 128,1260.19 129,1260.08 130,1259.86 131,1260.17 132,1260.09 133,1259.77 134,1260.04 135,1260.01 136,1260.05 137,1259.7 138,1260.15 139,1259.82 140,1259.68 141,1260.08 142,1259.95 143,1259.72 144,1259.83 145,1259.98 146,1260.17 147,1259.93 148,1259.98 149,1259.77 150,1260.02 151,1259.96 152,1259.81 153,1259.71 154,1259.99 155,1259.97 156,1259.85 157,1259.65 158,1260.09 159,1259.62 160,1259.77 161,1259.98 162,1259.8 163,1260 164,1260.16 165,1259.75 166,1259.97 167,1259.88 168,1259.9 169,1259.66 170,1259.75 171,1260.18 172,1259.84 173,1259.92 174,1259.92 175,1259.7 176,1259.95 177,1259.92 178,1259.67 179,1259.94 180,1259.91 181,1259.89 182,1259.71 183,1259.8 184,1259.76 185,1259.96 186,1260.18 187,1259.79 188,1259.87 189,1259.74 190,1259.74 191,1260.13 192,1260.07 193,1260.15 194,1259.71 195,1260.14 196,1260.15 197,1259.75 198,1259.86 199,1260.17 200,1259.79 201,1259.77 202,1259.91 203,1260.17 204,1259.79 205,1259.95 206,1259.85 207,1259.6 208,1259.71 209,1259.68 210,1260.11 211,1260 212,1259.89 213,1260.2 214,1259.61 215,1260.04 216,1260.04 217,1260.01 218,1260.05 219,1259.68 220,1259.87 221,1259.89 222,1259.95 223,1260.17 224,1260.02 225,1259.68 226,1259.72 227,1259.69 228,1260.05 229,1260.08 230,1260.17 231,1259.88 232,1259.98 233,1259.92 234,1259.91 235,1259.85 236,1259.98 237,1259.72 238,1260.08 239,1259.65 240,1259.87 241,1260.17 242,1260.01 243,1259.88 244,1259.95 245,1259.86 246,1260.01 247,1260.04 248,1259.72 249,1260.03 250,1259.77 251,1259.72 252,1259.84 253,1259.93 254,1259.64 255,1259.93 256,1259.67 257,1260.17 258,1259.94 259,1259.82 260,1260.17 261,1259.68 262,1260.16 263,1259.84 264,1260.09 265,1259.65 266,1259.86 267,1259.72 268,1259.9 269,1259.8 270,1259.8 271,1260.02 272,1260.07 273,1259.7 274,1260.11 275,1259.65 276,1260.08 277,1260.14 278,1260.14 279,1259.73 280,1259.63 281,1259.95 282,1259.8 283,1260.05 284,1259.66 285,1259.79 286,1260.11 287,1260.17 288,1259.78 289,1260.17 290,1259.7 291,1260.02 292,1260.06 293,1259.85 294,1260.01 295,1259.86 296,1260.11 297,1259.65 298,1260.01 299,1259.7 300,1260.11 301,1259.72 302,1259.61 303,1259.97 304,1260.18 305,1259.97 306,1259.82 307,1260.07 308,1259.87 309,1260.14 310,1259.92 311,1259.76 312,1259.94 313,1259.79 314,1260.13 315,1259.7 316,1260.13 317,1259.65 318,1259.6 319,1259.64 320,1259.88 321,1260.03 322,1259.99 323,1259.75 324,1259.9 325,1259.64 326,1260.14 327,1259.91 328,1259.68 329,1259.84 330,1259.88 331,1260.15 332,1260.12 333,1260.04 334,1259.66 335,1259.69 336,1260.06 337,1259.65 338,1260.18 339,1259.84 340,1259.62 341,1259.99 342,1259.63 343,1259.81 344,1260.17 345,1260 346,1259.93 347,1260.05 348,1259.75 349,1260.09 350,1259.73 351,1260.02 352,1260.16 353,1259.86 354,1260.14 355,1259.87 356,1259.73 357,1259.84 358,1259.92 359,1260.18 360,1259.89 361,1260.14 362,1259.81 363,1260.12 364,1259.85 365,1259.99 366,1259.98 367,1259.8 368,1260.1 369,1260.1 370,1259.64 371,1260 372,1259.69 373,1259.68 374,1259.91 375,1260.11 376,1260.14 377,1259.67 378,1260.13 379,1259.9 380,1259.88 381,1260.13 382,1259.92 383,1260.1 384,1259.88 385,1259.9 386,1259.98 387,1260.08 388,1259.96 389,1260.08 390,1260.12 391,1260.06 392,1259.68 393,1259.9 394,1259.67 395,1260.19 396,1259.63 397,1259.91 398,1259.73 399,1259.86 400,1259.79 401,1260.06 402,1259.75 403,1260.11 404,1260.04 405,1260.18 406,1259.96 407,1259.89 408,1260.02 409,1259.67 410,1260.15 411,1259.85 412,1260.06 413,1259.84 414,1259.73 415,1259.77 416,1260.16 417,1260.05 418,1259.84 419,1259.61 420,1260.18 421,1259.83 422,1259.78 423,1259.71 424,1259.99 425,1259.71 426,1259.92 427,1259.65 428,1260.19 429,1259.64 430,1259.95 431,1259.96 432,1260.15 433,1260.05 434,1259.76 435,1259.79 436,1260.11 437,1259.99 438,1260.12 439,1260.08 440,1260.07 441,1260 442,1259.61 443,1259.6 444,1259.73 445,1259.91 446,1259.9 447,1259.73 448,1259.66 449,1259.75 450,1259.82 451,1260.08 452,1259.82 453,1259.69 454,1259.73 455,1260.14 456,1259.77 457,1259.99 458,1260.1 459,1259.62 460,1259.8 461,1259.75 462,1260.12 463,1259.7 464,1259.64 465,1259.66 466,1259.75 467,1259.7 468,1259.72 469,1259.85 470,1259.94 471,1259.7 472,1259.73 473,1259.68 474,1260.02 475,1259.62 476,1259.88 477,1259.63 478,1260.13 479,1259.62 480,1259.73 481,1260.05 482,1259.7 483,1260.06 484,1260.08 485,1259.93 486,1260.06 487,1259.9 488,1259.66 489,1259.79 490,1259.77 491,1259.96 492,1259.73 493,1259.72 494,1259.79 495,1259.63 496,1259.7 497,1259.96 498,1260.15 499,1259.81 500,1259.7 501,1260 502,1259.84 503,1259.7 504,1259.72 505,1260.2 506,1259.91 507,1260.19 508,1260.13 509,1259.71 510,1259.95 511,1259.84 512,1259.93 513,1260 514,1260.07 515,1259.99 516,1259.69 517,1259.83 518,1260.02 519,1260.15 520,1260.04 521,1259.78 522,1259.93 523,1259.8 524,1259.72 525,1260.13 526,1259.79 527,1260.18 528,1259.71 529,1260.09 530,1260.04 531,1259.63 532,1259.98 533,1260.07 534,1259.67 535,1259.83 536,1259.66 537,1259.96 538,1259.9 539,1259.63 540,1259.9 541,1259.61 542,1260.09 543,1259.7 544,1260.1 545,1259.88 546,1260.2 547,1260.09 548,1259.63 549,1259.93 550,1259.71 551,1260.05 552,1259.99 553,1260.14 554,1259.87 555,1259.68 556,1259.89 557,1259.97 558,1259.64 559,1259.66 560,1259.8 561,1260.15 562,1259.83 563,1259.93 564,1259.63 565,1259.98 566,1259.8 567,1259.82 568,1259.97 569,1259.89 570,1259.79 571,1259.66 572,1259.9" fill="none" stroke="#0000ff" stroke-width="1.4"/>
<polyline points="477.3,1260.5 477.3,1244.73 477.9,1244.34 478.5,1241.35 479.1,1223.4 479.7,1196.83 480.3,1200.8 480.9,1167.48 481.5,1151.66 482.1,1101.19 482.7,1119.47 483.3,1073.58 483.9,1135.29 484.5,1050.42 485.1,1110.17 485.7,1013.54 486.3,1064.67 486.9,1076.02 487.5,1142.15 488.1,1142.43 488.7,1196.72 489.3,1177.79 489.9,1202.91 490.5,1204.77 491.1,1230.3 491.7,1222.64 492.3,1238.35 492.9,1234.85 493.5,1243.36 494.1,1238.61 494.7,1244.89 495.3,1242.72 495.9,1247.81 496.5,1246.99 497.1,1249.75 497.7,1249.21 498.3,1252.03 498.9,1251.16 499.5,1254.69 500.1,1252.58 500.7,1254.42 501.3,1254.11 501.9,1256.57 502.5,1255.57 503.1,1256.81 503.7,1255.89 504.3,1257.69 504.9,1256.52 505.5,1258.07 506.1,1257.22 506.7,1258.56 507.3,1257.79 507.9,1258.7 508.5,1258.26 509.1,1258.8 509.7,1258.94 510.3,1259.5 510.9,1259.14 511.5,1259.66 512.1,1259.37 512.7,1259.71 513.3,1259.56 513.9,1259.88 514.5,1259.71 515.1,1259.98 515.7,1259.86 516.3,1260.13 516.9,1260.06 517.5,1260.18 518.1,1260.23 518.7,1260.34 519.3,1260.4 519.9,1260.49 520,1260.5" fill="none" stroke="#0000ff" stroke-width="0.9" stroke-linejoin="bevel"/>
<path d="M477.3,1260.5 L477.3,1246.47 L478.5,1243.08 L479.5,1209.08 L480.8,1183.58 L481.8,1130.37 L483.5,1094.58 L484.5,1073.08 L485.3,1056.08 L485.8,1048.34 L486.3,1064.58 L487.2,1108.27 L487.8,1149.58 L489.5,1192.08 L491,1221.83 L493,1238.83 L497,1249.88 L502,1255.83 L510,1259.22 L520,1260.5 Z M478.1,1260.5 L478.3,1250 L479.4,1240 L481.9,1200 L484.4,1169.7 L485.5,1180 L486.4,1200 L488,1225 L489.9,1240 L492,1252 L496,1260.5 Z" fill="#0000ff" fill-rule="evenodd"/>
<line x1="482.67" y1="1100.22" x2="482.67" y2="1137.42" stroke="#fcfcfc" stroke-width="0.4" stroke-opacity="0.75"/>
<line x1="486.38" y1="1089.67" x2="486.38" y2="1153.91" stroke="#fcfcfc" stroke-width="0.65" stroke-opacity="0.75"/>
<line x1="482.85" y1="1097.8" x2="482.85" y2="1128.72" stroke="#fcfcfc" stroke-width="0.68" stroke-opacity="0.75"/>
<line x1="487.07" y1="1102.39" x2="487.07" y2="1148.73" stroke="#fcfcfc" stroke-width="0.54" stroke-opacity="0.75"/>
<line x1="486.36" y1="1086.31" x2="486.36" y2="1165.46" stroke="#fcfcfc" stroke-width="0.44" stroke-opacity="0.75"/>
<line x1="484.4" y1="1095.97" x2="484.4" y2="1164.29" stroke="#fcfcfc" stroke-width="0.59" stroke-opacity="0.75"/>
<line x1="96.1" y1="1280.1" x2="553.6" y2="1280.1" stroke="#000000" stroke-width="1.4"/>
<line x1="96.1" y1="1280.1" x2="96.1" y2="1286.1" stroke="#000000" stroke-width="1.3"/>
<line x1="141.85" y1="1280.1" x2="141.85" y2="1283.1" stroke="#000000" stroke-width="1.3"/>
<line x1="187.6" y1="1280.1" x2="187.6" y2="1286.1" stroke="#000000" stroke-width="1.3"/>
<line x1="233.35" y1="1280.1" x2="233.35" y2="1283.1" stroke="#000000" stroke-width="1.3"/>
<line x1="279.1" y1="1280.1" x2="279.1" y2="1286.1" stroke="#000000" stroke-width="1.3"/>
<line x1="324.85" y1="1280.1" x2="324.85" y2="1283.1" stroke="#000000" stroke-width="1.3"/>
<line x1="370.6" y1="1280.1" x2="370.6" y2="1286.1" stroke="#000000" stroke-width="1.3"/>
<line x1="416.35" y1="1280.1" x2="416.35" y2="1283.1" stroke="#000000" stroke-width="1.3"/>
<line x1="462.1" y1="1280.1" x2="462.1" y2="1286.1" stroke="#000000" stroke-width="1.3"/>
<line x1="507.85" y1="1280.1" x2="507.85" y2="1283.1" stroke="#000000" stroke-width="1.3"/>
<line x1="553.6" y1="1280.1" x2="553.6" y2="1286.1" stroke="#000000" stroke-width="1.3"/>
<polygon points="398,1280 398.5,1275.48 399.2,1276.78 399.9,1271.94 400.6,1274.24 401.3,1273.53 402,1272.64 402.7,1271.98 403.4,1275.8 404.1,1275.1 404.8,1270.66 405.5,1273.77 406.2,1275.69 406.9,1272.96 407.6,1275.92 408.3,1271.83 409,1277.67 409.5,1280" fill="#ff0000"/>
<polyline points="409.6,1280.1 409.6,1280.1 410.2,1253.25 410.8,1198.88 411.4,1149.85 412,1090.86 412.6,1138.6 413.2,1070.63 413.8,1106.2 414.4,1047.81 415,1088.24 415.6,1046.1 416.2,1093.9 416.8,1085.85 417.4,1143.03 418,1092.39 418.6,1130.84 419.2,1130.34 419.8,1172.15 420.4,1169.28 421,1218.62 421.6,1216.65 422.2,1235.36 422.8,1235.22 423.4,1252.38 424,1247.86 424.6,1261.72 425.2,1261.52 425.8,1269.55 426.4,1275.22 426.8,1280.1" fill="none" stroke="#ff0000" stroke-width="0.9" stroke-linejoin="bevel"/>
<path d="M409.6,1280.1 L410,1259.02 L410.5,1236.49 L411.2,1169.51 L411.8,1116.47 L412,1110.52 L413.3,1087.91 L414.8,1076.01 L415.4,1068.88 L416,1080.26 L416.5,1100.92 L418,1116.47 L418.6,1134.41 L420,1169.51 L420.8,1199.26 L421.5,1224.76 L423.3,1246.01 L425,1261.32 L426,1271.51 L426.8,1280.1 Z M411.9,1280.1 L412.3,1262 L413.5,1255.2 L415.5,1255.2 L417.4,1262 L418.5,1280.1 Z" fill="#ff0000" fill-rule="evenodd"/>
<line x1="416.86" y1="1134.35" x2="416.86" y2="1207.87" stroke="#fcfcfc" stroke-width="0.63" stroke-opacity="0.75"/>
<line x1="416.31" y1="1098.73" x2="416.31" y2="1178.72" stroke="#fcfcfc" stroke-width="0.43" stroke-opacity="0.75"/>
<line x1="414.4" y1="1120.87" x2="414.4" y2="1197.38" stroke="#fcfcfc" stroke-width="0.41" stroke-opacity="0.75"/>
<line x1="413.99" y1="1109.74" x2="413.99" y2="1182.48" stroke="#fcfcfc" stroke-width="0.55" stroke-opacity="0.75"/>
<line x1="418.77" y1="1122.54" x2="418.77" y2="1167.26" stroke="#fcfcfc" stroke-width="0.43" stroke-opacity="0.75"/>
<line x1="418.62" y1="1118.52" x2="418.62" y2="1161.35" stroke="#fcfcfc" stroke-width="0.6" stroke-opacity="0.75"/>
<line x1="430.3" y1="1280" x2="430.3" y2="1272" stroke="#ff0000" stroke-width="1.2"/>
<polygon points="426,1280 427.5,1273 429,1277 430.5,1280" fill="#ff0000"/>
<line x1="76.1" y1="1299.5" x2="533.6" y2="1299.5" stroke="#000000" stroke-width="1.4"/>
<line x1="76.1" y1="1299.5" x2="76.1" y2="1305.5" stroke="#000000" stroke-width="1.3"/>
<line x1="121.85" y1="1299.5" x2="121.85" y2="1302.5" stroke="#000000" stroke-width="1.3"/>
<line x1="167.6" y1="1299.5" x2="167.6" y2="1305.5" stroke="#000000" stroke-width="1.3"/>
<line x1="213.35" y1="1299.5" x2="213.35" y2="1302.5" stroke="#000000" stroke-width="1.3"/>
<line x1="259.1" y1="1299.5" x2="259.1" y2="1305.5" stroke="#000000" stroke-width="1.3"/>
<line x1="304.85" y1="1299.5" x2="304.85" y2="1302.5" stroke="#000000" stroke-width="1.3"/>
<line x1="350.6" y1="1299.5" x2="350.6" y2="1305.5" stroke="#000000" stroke-width="1.3"/>
<line x1="396.35" y1="1299.5" x2="396.35" y2="1302.5" stroke="#000000" stroke-width="1.3"/>
<line x1="442.1" y1="1299.5" x2="442.1" y2="1305.5" stroke="#000000" stroke-width="1.3"/>
<line x1="487.85" y1="1299.5" x2="487.85" y2="1302.5" stroke="#000000" stroke-width="1.3"/>
<line x1="533.6" y1="1299.5" x2="533.6" y2="1305.5" stroke="#000000" stroke-width="1.3"/>
<polyline points="76.1,1298.78 77.1,1298.66 78.1,1298.48 79.1,1299.09 80.1,1298.93 81.1,1299.15 82.1,1298.87 83.1,1298.8 84.1,1298.52 85.1,1298.67 86.1,1298.74 87.1,1298.88 88.1,1298.74 89.1,1298.98 90.1,1298.52 91.1,1298.57 92.1,1298.53 93.1,1299.08 94.1,1298.66 95.1,1298.6 96.1,1298.8 97.1,1298.48 98.1,1298.48 99.1,1298.61 100.1,1298.54 101.1,1298.68 102.1,1298.5 103.1,1299.09 104.1,1298.64 105.1,1298.64 106.1,1298.71 107.1,1298.98 108.1,1299.15 109.1,1298.72 110.1,1298.54 111.1,1298.98 112.1,1299.03 113.1,1299.02 114.1,1299.12 115.1,1298.66 116.1,1298.42 117.1,1298.56 118.1,1298.91 119.1,1298.64 120.1,1299.14 121.1,1298.53 122.1,1298.94 123.1,1299.2 124.1,1298.7 125.1,1299.09" fill="none" stroke="#000000" stroke-width="0.9"/>
<polyline points="160,1299.03 161,1299.16 162,1298.93 163,1298.87 164,1298.72 165,1299.18 166,1298.7 167,1299.13 168,1299.07 169,1298.82 170,1299 171,1299 172,1298.86 173,1299.07 174,1298.72 175,1299.07 176,1298.7 177,1298.71 178,1298.88 179,1299.18 180,1298.73 181,1299.18 182,1298.9 183,1298.95 184,1299.16 185,1298.82 186,1298.77 187,1298.85 188,1298.96 189,1298.89 190,1298.85 191,1299.06 192,1298.68 193,1298.6 194,1298.72 195,1298.62 196,1299 197,1298.61 198,1299.16 199,1298.91 200,1299.12 201,1298.93 202,1298.79 203,1298.77 204,1298.93 205,1298.99 206,1299.09 207,1298.96 208,1299.03 209,1299.08 210,1298.76 211,1298.89 212,1298.94 213,1299.08 214,1298.78 215,1299.08 216,1299.04 217,1298.86 218,1298.78 219,1298.62 220,1298.75 221,1298.63 222,1298.65 223,1298.77 224,1298.77 225,1299.16 226,1299.08 227,1299.19 228,1298.68 229,1298.77 230,1298.82 231,1299.04 232,1298.99 233,1299.1 234,1298.82 235,1298.61 236,1299.02 237,1299.17 238,1299.09 239,1298.99 240,1298.66 241,1298.72 242,1298.93 243,1299.14 244,1299.14 245,1299.11 246,1298.73 247,1298.92 248,1298.61 249,1298.65 250,1298.72 251,1298.91 252,1298.71 253,1299.12 254,1299.13 255,1298.86 256,1298.9 257,1299.07 258,1299.05 259,1299.19 260,1298.65 261,1298.77 262,1298.63 263,1298.61 264,1298.94 265,1298.76 266,1298.97 267,1298.71 268,1298.7 269,1299.12 270,1299.19 271,1299.07 272,1298.85 273,1298.97 274,1299.19 275,1298.7 276,1298.73 277,1298.92 278,1299.17 279,1298.67 280,1298.88 281,1299.16 282,1299.01 283,1298.83 284,1298.67 285,1298.91 286,1298.82 287,1299.08 288,1299.05 289,1298.66 290,1298.97 291,1299.14 292,1298.85 293,1299.12 294,1299.08 295,1298.93 296,1298.85 297,1298.82 298,1298.78 299,1298.94 300,1299.16 301,1298.77 302,1299.17 303,1298.92 304,1298.96 305,1298.8 306,1298.77 307,1299.06 308,1298.81 309,1298.78 310,1298.92 311,1299.11 312,1298.65 313,1298.84 314,1299.16 315,1299.06 316,1298.61 317,1299.06 318,1298.96 319,1298.73 320,1298.71 321,1298.82 322,1298.76 323,1299.18 324,1299.14 325,1298.61 326,1298.72 327,1299.18 328,1299.17 329,1299.06 330,1298.64 331,1299.07 332,1298.8 333,1298.64 334,1298.82 335,1298.65 336,1299.04 337,1299.11 338,1299.19 339,1298.75 340,1299.14 341,1298.62 342,1298.77 343,1299.09 344,1298.72 345,1299.1 346,1298.89 347,1299.14 348,1298.73 349,1298.67 350,1298.65 351,1299.2 352,1298.69 353,1298.87 354,1298.71 355,1298.9 356,1298.83 357,1298.84 358,1298.72 359,1299.15 360,1299.17 361,1298.87 362,1299.03 363,1298.96 364,1299.2 365,1298.75 366,1299.19 367,1298.7 368,1298.71 369,1298.93 370,1299.13 371,1298.81 372,1299.08 373,1298.94 374,1299.13 375,1298.61 376,1298.87 377,1298.99 378,1299.14 379,1298.76 380,1298.69 381,1298.69 382,1299.14 383,1298.98 384,1299.02 385,1298.74 386,1299.11 387,1298.84 388,1298.61 389,1298.74 390,1299.2 391,1299.16 392,1299.13 393,1298.78 394,1298.84 395,1298.89 396,1298.93 397,1298.96 398,1298.83 399,1298.81 400,1298.65 401,1298.76 402,1298.72 403,1298.65 404,1298.7 405,1298.77 406,1299.18 407,1298.79 408,1298.69 409,1298.94 410,1298.67 411,1299.09 412,1298.63 413,1298.93 414,1298.78 415,1299.05 416,1299.02 417,1298.99 418,1299.01 419,1299.14 420,1298.93 421,1298.61 422,1298.81 423,1298.64 424,1298.74 425,1298.7 426,1298.6 427,1298.75 428,1299.04 429,1299.05 430,1298.95 431,1299.19 432,1299.06 433,1298.67 434,1298.65 435,1299 436,1298.74 437,1298.74 438,1298.67 439,1298.72 440,1298.88 441,1299.14 442,1298.7 443,1299.01 444,1298.82 445,1298.98 446,1298.88 447,1298.62 448,1299.1 449,1298.88 450,1298.81 451,1298.88 452,1298.64 453,1298.96 454,1298.65 455,1298.79 456,1298.62 457,1299.15 458,1299.07 459,1299.03 460,1298.66 461,1299.19 462,1299.04 463,1298.77 464,1298.61 465,1299.09 466,1298.94 467,1298.79 468,1298.79 469,1298.75 470,1298.75 471,1299.05 472,1299.05 473,1299.18 474,1298.79 475,1299.07 476,1299.04 477,1298.62 478,1298.81 479,1298.85 480,1298.81 481,1298.84 482,1298.78 483,1299.02 484,1299.16 485,1299.16 486,1299.19 487,1298.98 488,1299.11 489,1299.13 490,1298.9 491,1298.62 492,1298.79 493,1299.04 494,1298.74 495,1299.09 496,1299.14 497,1299.02 498,1298.95 499,1298.79 500,1298.93 501,1298.76 502,1299.14 503,1298.64 504,1298.99 505,1298.7 506,1299.18 507,1298.7 508,1299.06 509,1298.69 510,1298.72 511,1298.8 512,1299.03 513,1299.19 514,1299.09 515,1298.66 516,1299.11 517,1298.8 518,1298.85 519,1298.8 520,1299.09 521,1299.11 522,1299.14 523,1298.61 524,1298.97 525,1298.81 526,1298.86 527,1299.07 528,1299.16 529,1299.19 530,1298.69 531,1299.12 532,1298.62 533,1298.98" fill="none" stroke="#000000" stroke-width="0.9"/>
<polyline points="126.3,1299.5 126.3,1282.34 126.9,1287.56 127.5,1279.9 128.1,1270.07 128.7,1212.7 129.3,1198.6 129.9,1134.35 130.5,1162.23 131.1,1073.08 131.7,1138.44 132.3,1072.29 132.9,1121.34 133.5,1100.29 134.1,1160.16 134.7,1095.47 135.3,1143.95 135.9,1085.61 136.5,1120.83 137.1,1073.37 137.7,1096.43 138.3,1067.75 138.9,1113.26 139.5,1102.78 140.1,1190.48 140.7,1155.73 141.3,1194.52 141.9,1171.21 142.5,1226.99 143.1,1244.66 143.7,1270.49 144.3,1262.83 144.9,1274.35 145.5,1271.78 146.1,1282.51 146.7,1277.69 147.3,1286.94 147.9,1283.63 148.5,1288.81 149.1,1286.28 149.7,1288.96 150.3,1289.12 150.9,1293.79 151.5,1292.22 152.1,1294.14 152.7,1293.9 153.3,1295.35 153.9,1295.44 154.5,1296.8 155.1,1297.21 155.7,1297.66 156.3,1297.75 156.9,1298.51 157.5,1298.4 158.1,1298.78 158.7,1299 159.3,1299.37 159.7,1299.5" fill="none" stroke="#000000" stroke-width="0.9" stroke-linejoin="bevel"/>
<path d="M126.3,1299.5 L126.3,1285.5 L127.8,1283.1 L128.3,1251.9 L128.9,1214.3 L129.5,1179.9 L129.9,1158.62 L130.8,1123.9 L131.3,1110.3 L132.3,1109.5 L133.2,1131.9 L134.5,1127.9 L136,1119.9 L137.6,1107.9 L138.4,1099.9 L139.2,1115.9 L139.8,1164.7 L141,1179.9 L142.2,1193.5 L142.5,1219.9 L142.8,1250.86 L144,1266.3 L145.8,1277.9 L148,1286.3 L151.7,1293.74 L155,1297.5 L159.7,1299.5 Z M127.1,1299.5 L127.3,1285 L129.3,1270 L130.2,1240 L131.5,1212 L133,1195 L134.2,1192 L136,1200 L138.5,1212 L140.3,1235 L141.2,1260 L142.5,1280 L146,1296 L147.5,1299.5 Z" fill="#000000" fill-rule="evenodd"/>
<line x1="141.22" y1="1198.22" x2="141.22" y2="1229" stroke="#fcfcfc" stroke-width="0.7" stroke-opacity="0.75"/>
<line x1="131.39" y1="1087.11" x2="131.39" y2="1153.22" stroke="#fcfcfc" stroke-width="0.6" stroke-opacity="0.75"/>
<line x1="137.17" y1="1077.64" x2="137.17" y2="1169.71" stroke="#fcfcfc" stroke-width="0.55" stroke-opacity="0.75"/>
<line x1="138.72" y1="1103.14" x2="138.72" y2="1153.88" stroke="#fcfcfc" stroke-width="0.59" stroke-opacity="0.75"/>
<line x1="136.29" y1="1098.06" x2="136.29" y2="1179.61" stroke="#fcfcfc" stroke-width="0.63" stroke-opacity="0.75"/>
<line x1="137.37" y1="1105.14" x2="137.37" y2="1179.96" stroke="#fcfcfc" stroke-width="0.45" stroke-opacity="0.75"/>
<line x1="131" y1="1190" x2="131" y2="1212" stroke="#d0d0d0" stroke-width="0.7"/>
<line x1="133.8" y1="1110" x2="133.8" y2="1170" stroke="#d0d0d0" stroke-width="0.7"/>
<line x1="135.6" y1="1130" x2="135.6" y2="1185" stroke="#d0d0d0" stroke-width="0.7"/>
<line x1="137.2" y1="1100" x2="137.2" y2="1150" stroke="#d0d0d0" stroke-width="0.7"/>
<line x1="132.4" y1="1090" x2="132.4" y2="1120" stroke="#d0d0d0" stroke-width="0.7"/>
<polygon points="279,1299.5 284,1297 287,1294 289,1293 291.2,1289 292.4,1289 293.2,1294 294.5,1292 295.6,1292.2 296.5,1295.5 300,1297.5 305,1299.5" fill="#000000"/>
<line x1="138.4" y1="1110" x2="138.4" y2="1050" stroke="#000000" stroke-width="1.1"/>
<line x1="131.6" y1="1110" x2="131.6" y2="1062" stroke="#000000" stroke-width="1.1"/>
<line x1="168.6" y1="1040" x2="168.6" y2="993" stroke="#9c00cc" stroke-width="1.1"/>
<line x1="172.3" y1="1040" x2="172.3" y2="993" stroke="#9c00cc" stroke-width="1.1"/>
<line x1="206.1" y1="1010" x2="206.1" y2="973" stroke="#ff8000" stroke-width="1.1"/>
<line x1="217" y1="1040" x2="217" y2="956" stroke="#8a8a8a" stroke-width="1.1"/>
<line x1="222.1" y1="1040" x2="222.1" y2="1005" stroke="#8a8a8a" stroke-width="1.1"/>
<line x1="220.2" y1="1050" x2="220.2" y2="1016" stroke="#8a8a8a" stroke-width="1.1"/>
<line x1="254.5" y1="1000" x2="254.5" y2="938" stroke="#008000" stroke-width="1.1"/>
<line x1="415.4" y1="1070" x2="415.4" y2="1031.6" stroke="#ff0000" stroke-width="1.1"/>
<line x1="485.8" y1="1050" x2="485.8" y2="1010.9" stroke="#0000ff" stroke-width="1.1"/>
<text x="457" y="1295.7" font-size="17" font-weight="bold" fill="#000" stroke="#000" stroke-width="0.15"><tspan font-style="italic">m/z</tspan> 814.46</text>
<text x="480.2" y="1276.9" font-size="17" font-weight="bold" fill="#ff0000" stroke="#ff0000" stroke-width="0.15"><tspan font-style="italic">m/z</tspan> 178.08</text>
<text x="503.6" y="1256.7" font-size="17" font-weight="bold" fill="#0000ff" stroke="#0000ff" stroke-width="0.15"><tspan font-style="italic">m/z</tspan> 252.09</text>
<text x="521.2" y="1238.2" font-size="17" font-weight="bold" fill="#9c00cc" stroke="#9c00cc" stroke-width="0.15"><tspan font-style="italic">m/z</tspan> 368.03</text>
<text x="535" y="1218.9" font-size="17" font-weight="bold" fill="#ff8000" stroke="#ff8000" stroke-width="0.15"><tspan font-style="italic">m/z</tspan> 404.16</text>
<text x="550.8" y="1202.1" font-size="17" font-weight="bold" fill="#8a8a8a" stroke="#8a8a8a" stroke-width="0.15"><tspan font-style="italic">m/z</tspan> 351.02</text>
<text x="563.4" y="1183.3" font-size="17" font-weight="bold" fill="#008000" stroke="#008000" stroke-width="0.15"><tspan font-style="italic">m/z</tspan> 342.15</text>
<text x="70.4" y="1327.6" font-size="16.5" text-anchor="middle" stroke="#000" stroke-width="0.35">0</text>
<text x="167.6" y="1327.6" font-size="16.5" text-anchor="middle" stroke="#000" stroke-width="0.35">5</text>
<text x="259.1" y="1327.6" font-size="16.5" text-anchor="middle" stroke="#000" stroke-width="0.35">10</text>
<text x="350.6" y="1327.6" font-size="16.5" text-anchor="middle" stroke="#000" stroke-width="0.35">15</text>
<text x="442.1" y="1327.6" font-size="16.5" text-anchor="middle" stroke="#000" stroke-width="0.35">20</text>
<text x="533.6" y="1327.6" font-size="16.5" text-anchor="middle" stroke="#000" stroke-width="0.35">25</text>
<text x="264.2" y="1354.7" font-size="20" stroke="#000" stroke-width="0.35">Time (min)</text>
<rect x="149.6" y="975.9" width="43.8" height="270.6" fill="none" stroke="#c4121a" stroke-width="2"/>
<polyline points="171.8,975.9 171.8,923.7 447,923.7" fill="none" stroke="#c4121a" stroke-width="1.9"/>
<polygon points="453.4,923.7 445.8,920.4 445.8,927" fill="#c4121a"/>
<text x="426.6" y="908.4" font-size="29.5" font-weight="bold">d</text>
<rect x="507.5" y="904.4" width="170.8" height="122.1" fill="#fff" stroke="#555" stroke-width="1.3"/>
<line x1="504.9" y1="1026.5" x2="507.5" y2="1026.5" stroke="#555" stroke-width="1.1"/>
<line x1="504.9" y1="1011.24" x2="507.5" y2="1011.24" stroke="#555" stroke-width="1.1"/>
<line x1="504.9" y1="995.98" x2="507.5" y2="995.98" stroke="#555" stroke-width="1.1"/>
<line x1="504.9" y1="980.71" x2="507.5" y2="980.71" stroke="#555" stroke-width="1.1"/>
<line x1="504.9" y1="965.45" x2="507.5" y2="965.45" stroke="#555" stroke-width="1.1"/>
<line x1="504.9" y1="950.19" x2="507.5" y2="950.19" stroke="#555" stroke-width="1.1"/>
<line x1="504.9" y1="934.92" x2="507.5" y2="934.92" stroke="#555" stroke-width="1.1"/>
<line x1="504.9" y1="919.66" x2="507.5" y2="919.66" stroke="#555" stroke-width="1.1"/>
<line x1="504.9" y1="904.4" x2="507.5" y2="904.4" stroke="#555" stroke-width="1.1"/>
<line x1="508.4" y1="1026.5" x2="508.4" y2="1029.1" stroke="#555" stroke-width="1.1"/>
<line x1="532.54" y1="1026.5" x2="532.54" y2="1029.1" stroke="#555" stroke-width="1.1"/>
<line x1="556.68" y1="1026.5" x2="556.68" y2="1029.1" stroke="#555" stroke-width="1.1"/>
<line x1="580.82" y1="1026.5" x2="580.82" y2="1029.1" stroke="#555" stroke-width="1.1"/>
<line x1="604.96" y1="1026.5" x2="604.96" y2="1029.1" stroke="#555" stroke-width="1.1"/>
<line x1="629.1" y1="1026.5" x2="629.1" y2="1029.1" stroke="#555" stroke-width="1.1"/>
<line x1="653.24" y1="1026.5" x2="653.24" y2="1029.1" stroke="#555" stroke-width="1.1"/>
<line x1="677.38" y1="1026.5" x2="677.38" y2="1029.1" stroke="#555" stroke-width="1.1"/>
<text x="503" y="910.2" font-size="16.5" text-anchor="end" stroke="#000" stroke-width="0.35">100</text>
<text x="503" y="971" font-size="16.5" text-anchor="end" stroke="#000" stroke-width="0.35">50</text>
<text x="503" y="1034.3" font-size="16.5" text-anchor="end" stroke="#000" stroke-width="0.35">0</text>
<text x="509.6" y="1049" font-size="17.5" text-anchor="middle" stroke="#000" stroke-width="0.35">1.6</text>
<text x="557.88" y="1049" font-size="17.5" text-anchor="middle" stroke="#000" stroke-width="0.35">2.0</text>
<text x="606.16" y="1049" font-size="17.5" text-anchor="middle" stroke="#000" stroke-width="0.35">2.4</text>
<text x="654.44" y="1049" font-size="17.5" text-anchor="middle" stroke="#000" stroke-width="0.35">2.8</text>
<text x="541.6" y="1067.8" font-size="17" stroke="#000" stroke-width="0.35">Time (min)</text>
<text x="0" y="0" font-size="17" text-anchor="middle" stroke="#000" stroke-width="0.35" transform="translate(466.2,965.8) rotate(-90)">Rel. abundance (%)</text>
<path d="M507.8,1026.5 C509.24,1026.5 517.89,1026.5 520.1,1026.5 C522.31,1025.79 525.63,1020.72 526.7,1020.4 C527.77,1020.08 528.45,1026.02 529.3,1023.8 C530.15,1021.58 533.11,1003.36 534,1001.4 C534.89,999.44 536.3,1005.16 536.9,1007 C537.5,1008.84 538.54,1020.09 539.1,1017.2 C539.66,1014.31 541.06,988.45 541.7,982.2 C542.34,975.95 544.05,961.82 544.6,963.6 C545.15,965.38 545.97,994.23 546.4,997.5 C546.83,1000.77 547.88,990.07 548.3,991.6 C548.72,993.13 549.59,1012.21 550,1010.6 C550.41,1008.99 551.23,986.48 551.8,977.8 C552.37,969.12 554.26,936.53 554.9,936.2 C555.54,935.87 556.84,967.46 557.3,975 C557.75,982.54 558.37,1002.01 558.8,1000.8 C559.23,999.59 560.63,968.9 561,964.6 C561.37,960.3 561.64,967.68 562,963.9 C562.36,960.12 563.62,931.27 564.1,932.2 C564.58,933.13 565.74,967.19 566.1,971.9 C566.46,976.61 566.76,968.2 567.2,972.6 C567.64,977 569.32,1011.29 569.9,1009.6 C570.48,1007.91 571.83,964.37 572.2,958.1 C572.57,951.84 572.76,960.08 573.1,955.9 C573.44,951.72 574.55,918.22 575.1,922.3 C575.65,926.38 577.23,980.6 577.8,990.9 C578.37,1001.2 579.44,1015.71 580,1010.6 C580.56,1005.49 582.14,953.82 582.6,947.1 C583.06,940.38 583.44,949.25 583.9,953 C584.36,956.75 585.85,971.97 586.5,979.2 C587.15,986.43 588.85,1014.57 589.5,1015 C590.15,1015.43 591.63,986.05 592.1,982.9 C592.57,979.75 593.16,987.58 593.5,988 C593.84,988.42 594.53,984.46 595,986.5 C595.47,988.54 596.92,1000.99 597.5,1005.5 C598.08,1010.01 599.37,1026.5 600,1025.2 C600.63,1023.42 602.22,991.74 602.9,990.2 C603.58,988.66 604.98,1007.76 605.8,1012 C606.62,1016.24 609.16,1026.5 609.9,1026.5 C610.63,1026.34 611.5,1011.24 612.1,1010.6 C612.7,1009.96 614.31,1019.14 615,1021 C615.69,1022.86 617.02,1026.5 618,1026.5 C618.98,1026.14 622.35,1017.9 623.4,1017.9 C624.45,1017.9 625.87,1026.44 627,1026.5 C628.13,1026.5 631.93,1018.4 633.1,1018.4 C634.27,1018.4 635.76,1026.34 637,1026.5 C638.24,1026.5 642.42,1019.8 643.7,1019.8 C644.98,1019.8 646.81,1026.35 648,1026.5 C649.19,1026.5 652.73,1021.1 653.9,1021.1 C655.07,1021.1 656.83,1026.15 658,1026.5 C659.17,1026.5 662.73,1024.1 663.9,1024.1 C665.07,1024.1 666.8,1026.35 668,1026.5 C669.2,1026.5 673.03,1025.4 674.2,1025.4 C675.37,1025.4 677.56,1026.37 678,1026.5" fill="none" stroke="#9a3cff" stroke-width="1.3" stroke-linejoin="round"/>
</svg>
</body></html>
